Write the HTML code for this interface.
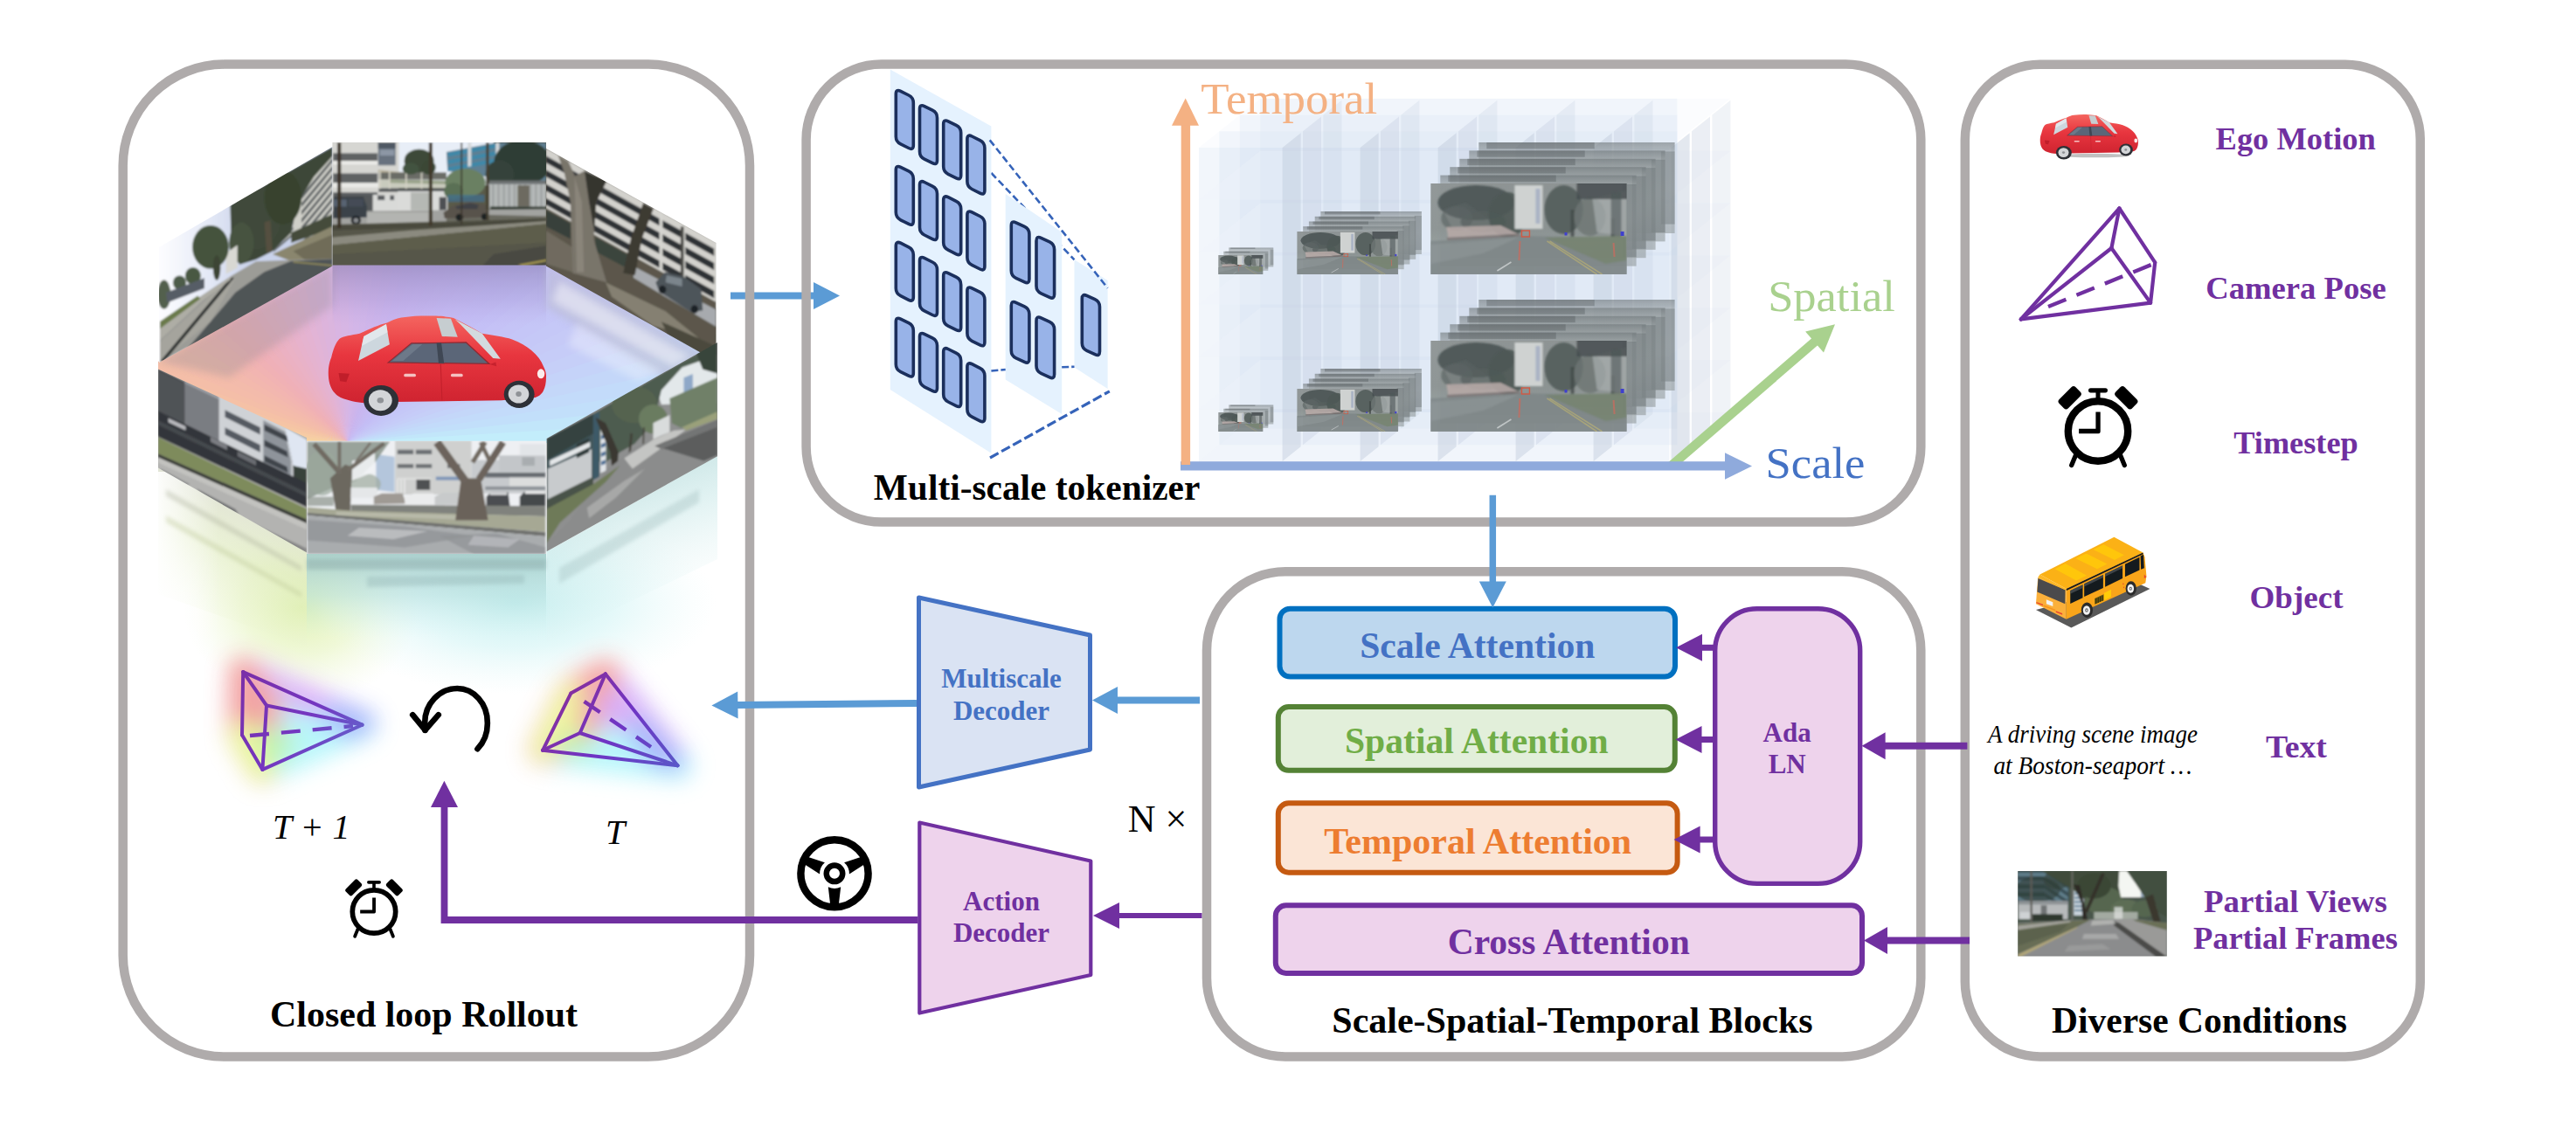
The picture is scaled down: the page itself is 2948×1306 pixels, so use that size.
<!DOCTYPE html>
<html><head><meta charset="utf-8"><title>Figure</title>
<style>html,body{margin:0;padding:0;background:#fff;}svg{display:block}text{font-family:"Liberation Serif","Times New Roman",serif;}</style>
</head><body>
<svg width="2948" height="1306" viewBox="0 0 2948 1306">
<defs><clipPath id="cTL"><polygon points="182.0,283.0 380.5,168.0 380.5,304.4 182.0,415.0"/></clipPath><clipPath id="cTC"><polygon points="380.5,163.0 625.0,163.0 625.0,303.5 380.5,303.5"/></clipPath><clipPath id="cTR"><polygon points="625.0,170.0 819.5,278.0 819.5,413.5 625.0,304.4"/></clipPath><clipPath id="cBL"><polygon points="181.0,422.4 351.0,501.0 351.0,632.5 181.0,535.5"/></clipPath><clipPath id="cBC"><polygon points="351.0,504.7 625.0,504.7 625.0,634.0 351.0,634.0"/></clipPath><clipPath id="cBR"><polygon points="625.6,502.0 821.0,392.0 821.0,522.2 625.6,631.2"/></clipPath><clipPath id="cFL"><polygon points="181.0,414.0 380.5,303.0 625.0,303.0 821.0,413.0 625.8,507.0 351.0,507.0 181.0,427.0"/></clipPath><clipPath id="cRefl"><rect x="181" y="395" width="640.5" height="420"/></clipPath>
<filter id="b2" x="-10%" y="-10%" width="120%" height="120%"><feGaussianBlur stdDeviation="2"/></filter>
<filter id="b4" x="-20%" y="-20%" width="140%" height="140%"><feGaussianBlur stdDeviation="4"/></filter>
<filter id="b1" x="-10%" y="-10%" width="120%" height="120%"><feGaussianBlur stdDeviation="1"/></filter>
<filter id="b12" x="-30%" y="-30%" width="160%" height="160%"><feGaussianBlur stdDeviation="12"/></filter>
<filter id="b14" x="-40%" y="-50%" width="180%" height="200%"><feGaussianBlur stdDeviation="13"/></filter>
<radialGradient id="gPink" cx="0.5" cy="0.5" r="0.5"><stop offset="0" stop-color="#e9b3c3" stop-opacity="1"/><stop offset="1" stop-color="#e9b3c3" stop-opacity="0"/></radialGradient>
<radialGradient id="gOrange" cx="0.5" cy="0.5" r="0.5"><stop offset="0" stop-color="#f8c79c" stop-opacity="1"/><stop offset="0.6" stop-color="#f6c2a6" stop-opacity="0.7"/><stop offset="1" stop-color="#f4b9b0" stop-opacity="0"/></radialGradient>
<radialGradient id="gCyan" cx="0.5" cy="0.5" r="0.5"><stop offset="0" stop-color="#c2f3fb" stop-opacity="1"/><stop offset="0.6" stop-color="#c6ebfb" stop-opacity="0.8"/><stop offset="1" stop-color="#cfe0fb" stop-opacity="0"/></radialGradient>
<radialGradient id="gPurple" cx="0.5" cy="0.5" r="0.5"><stop offset="0" stop-color="#bba3e2" stop-opacity="1"/><stop offset="0.6" stop-color="#c3ace8" stop-opacity="0.7"/><stop offset="1" stop-color="#cdb9f0" stop-opacity="0"/></radialGradient>
<radialGradient id="gYG" cx="0.5" cy="0.5" r="0.5"><stop offset="0" stop-color="#dcf0a6" stop-opacity="0.9"/><stop offset="0.5" stop-color="#e4f3ba" stop-opacity="0.55"/><stop offset="1" stop-color="#eef8d6" stop-opacity="0"/></radialGradient>
<radialGradient id="gCy2" cx="0.5" cy="0.5" r="0.5"><stop offset="0" stop-color="#b2eaea" stop-opacity="0.75"/><stop offset="0.5" stop-color="#c4f1f2" stop-opacity="0.45"/><stop offset="1" stop-color="#dff8f8" stop-opacity="0"/></radialGradient>
<linearGradient id="leftW" x1="0" y1="0" x2="1" y2="0"><stop offset="0" stop-color="#fff" stop-opacity="0.9"/><stop offset="1" stop-color="#fff" stop-opacity="0"/></linearGradient>
<linearGradient id="flTC" x1="0" y1="0" x2="0" y2="1"><stop offset="0" stop-color="#7f75a8" stop-opacity="0.5"/><stop offset="0.6" stop-color="#9a8cc8" stop-opacity="0.25"/><stop offset="1" stop-color="#b0a0e0" stop-opacity="0"/></linearGradient>
<linearGradient id="fadeW" x1="0" y1="0" x2="0" y2="1"><stop offset="0" stop-color="#fff" stop-opacity="0"/><stop offset="1" stop-color="#fff" stop-opacity="1"/></linearGradient>
<linearGradient id="reflBC" x1="0" y1="0" x2="0" y2="1"><stop offset="0" stop-color="#9fc9c6" stop-opacity="0.85"/><stop offset="0.5" stop-color="#b5dedd" stop-opacity="0.55"/><stop offset="1" stop-color="#d8f3f3" stop-opacity="0"/></linearGradient>
<linearGradient id="reflBR" x1="0" y1="0" x2="0.35" y2="1"><stop offset="0" stop-color="#a5cfcf" stop-opacity="0.9"/><stop offset="0.5" stop-color="#c4e6e6" stop-opacity="0.5"/><stop offset="1" stop-color="#e6f7f7" stop-opacity="0"/></linearGradient>
<linearGradient id="reflBL" x1="0.7" y1="0.2" x2="0.45" y2="1"><stop offset="0" stop-color="#dddfd2" stop-opacity="0.9"/><stop offset="0.4" stop-color="#deeabc" stop-opacity="0.6"/><stop offset="1" stop-color="#f0f8dc" stop-opacity="0"/></linearGradient>
<linearGradient id="skyTLz" gradientUnits="userSpaceOnUse" x1="50" y1="0" x2="500" y2="0"><stop offset="0" stop-color="#fdfdff"/><stop offset="0.45" stop-color="#e9edf8"/><stop offset="1" stop-color="#c9d2ea"/></linearGradient>
<linearGradient id="skyTL" x1="0" y1="0" x2="1" y2="0"><stop offset="0" stop-color="#f2f5fc"/><stop offset="0.25" stop-color="#d5def2"/><stop offset="1" stop-color="#c8cfe0"/></linearGradient>
<linearGradient id="blFade" x1="0" y1="0" x2="0" y2="1"><stop offset="0" stop-color="#fff" stop-opacity="0"/><stop offset="0.55" stop-color="#fff" stop-opacity="0.1"/><stop offset="1" stop-color="#fff" stop-opacity="0.95"/></linearGradient>
<linearGradient id="carBody" x1="0" y1="0" x2="0" y2="1"><stop offset="0" stop-color="#f4655f"/><stop offset="0.45" stop-color="#e8363f"/><stop offset="1" stop-color="#cf2330"/></linearGradient>

<linearGradient id="thumb" x1="0" y1="0" x2="0" y2="1">
<stop offset="0" stop-color="#8e9494"/><stop offset="0.5" stop-color="#8b9291"/><stop offset="0.62" stop-color="#909897"/><stop offset="1" stop-color="#858c8e"/></linearGradient>
<linearGradient id="thumbback" x1="0" y1="0" x2="0" y2="1">
<stop offset="0" stop-color="#6f777a"/><stop offset="0.12" stop-color="#9da4a6"/><stop offset="0.5" stop-color="#a3aaab"/><stop offset="1" stop-color="#949c9e"/></linearGradient>
<clipPath id="cThumb"><rect x="0" y="0" width="224" height="104"/></clipPath>
<g id="thumbimg">
<rect x="0" y="0" width="224" height="104" fill="url(#thumb)"/>
<g clip-path="url(#cThumb)"><g filter="url(#b1)">
<!-- sky patches -->
<polygon points="14,30 40,22 70,44 60,56 24,50" fill="#c9cccc" opacity="0.85"/>
<!-- left trees -->
<ellipse cx="52" cy="22" rx="44" ry="20" fill="#465050" opacity="0.9"/>
<ellipse cx="60" cy="44" rx="26" ry="12" fill="#525c5a" opacity="0.8"/>
<ellipse cx="88" cy="36" rx="22" ry="26" fill="#4a5452" opacity="0.9"/>
<ellipse cx="30" cy="40" rx="18" ry="14" fill="#5a6361" opacity="0.7"/>
<!-- centre building -->
<rect x="96" y="2" width="32" height="50" fill="#d2d5d4"/>
<rect x="120" y="6" width="5" height="40" fill="#aab4c6"/>
<!-- right trees -->
<ellipse cx="152" cy="30" rx="22" ry="28" fill="#505a58" opacity="0.9"/>
<rect x="160" y="30" width="4" height="34" fill="#3f4644" opacity="0.8"/><rect x="206" y="40" width="4" height="40" fill="#3f4644" opacity="0.7"/>
<ellipse cx="182" cy="38" rx="18" ry="22" fill="#6a7371" opacity="0.8"/>
<polygon points="185,18 224,8 224,60 190,56" fill="#a9afaf" opacity="0.7"/>
<!-- dark box top right -->
<rect x="167" y="-10" width="66" height="28" fill="#3f4648" opacity="0.8"/>
<rect x="206" y="10" width="12" height="70" fill="#4a5153" opacity="0.6"/>
<!-- left lower buildings pinkish -->
<polygon points="18,50 80,48 100,58 20,62" fill="#b7a9a6" opacity="0.9"/>
<polygon points="18,62 100,58 108,62 22,72" fill="#7a6f6f" opacity="0.8"/>
<!-- road -->
<polygon points="0,66 110,60 224,62 224,104 0,104" fill="#7f8788"/>
<polygon points="130,62 224,60 224,88 200,92" fill="#75836f" opacity="0.9"/>
<polygon points="0,70 100,62 60,80 0,92" fill="#8b9294" opacity="0.8"/>
</g>
<!-- lane lines -->
<line x1="133" y1="66" x2="190" y2="104" stroke="#b0a974" stroke-width="1.6" opacity="0.8"/>
<line x1="136" y1="66" x2="196" y2="104" stroke="#b0a974" stroke-width="1.6" opacity="0.8"/>
<line x1="92" y1="90" x2="76" y2="100" stroke="#d0d4d4" stroke-width="1.6" opacity="0.8"/>
<!-- red markers -->
<rect x="104" y="54" width="9" height="7" fill="none" stroke="#d5553e" stroke-width="1.4"/>
<line x1="102" y1="66" x2="101" y2="88" stroke="#c86a5c" stroke-width="2" opacity="0.8"/>
<line x1="209" y1="68" x2="210" y2="84" stroke="#c86a5c" stroke-width="2" opacity="0.8"/>
<rect x="153" y="56" width="3" height="3.5" fill="#3b3bd0"/><rect x="217" y="55" width="4" height="5" fill="#3b3bd0"/>
</g>
</g>

<radialGradient id="glR" cx="0.5" cy="0.5" r="0.5"><stop offset="0" stop-color="#f29a9a" stop-opacity="0.95"/><stop offset="0.5" stop-color="#f5b0a8" stop-opacity="0.6"/><stop offset="1" stop-color="#f8c8c0" stop-opacity="0"/></radialGradient>
<radialGradient id="glY" cx="0.5" cy="0.5" r="0.5"><stop offset="0" stop-color="#e8f59a" stop-opacity="0.95"/><stop offset="0.5" stop-color="#eef8b0" stop-opacity="0.55"/><stop offset="1" stop-color="#f4fbd0" stop-opacity="0"/></radialGradient>
<radialGradient id="glC" cx="0.5" cy="0.5" r="0.5"><stop offset="0" stop-color="#b0f5fb" stop-opacity="0.95"/><stop offset="0.5" stop-color="#c2f7fc" stop-opacity="0.6"/><stop offset="1" stop-color="#dafbfd" stop-opacity="0"/></radialGradient>
<radialGradient id="glB" cx="0.5" cy="0.5" r="0.5"><stop offset="0" stop-color="#9fb6fb" stop-opacity="0.95"/><stop offset="0.5" stop-color="#b4c4fc" stop-opacity="0.55"/><stop offset="1" stop-color="#d0d8fd" stop-opacity="0"/></radialGradient>
<radialGradient id="glP" cx="0.5" cy="0.5" r="0.5"><stop offset="0" stop-color="#d9b0f8" stop-opacity="0.95"/><stop offset="0.5" stop-color="#e0c0fa" stop-opacity="0.55"/><stop offset="1" stop-color="#ecd8fc" stop-opacity="0"/></radialGradient>
<radialGradient id="glG" cx="0.5" cy="0.5" r="0.5"><stop offset="0" stop-color="#b8f5b0" stop-opacity="0.9"/><stop offset="0.5" stop-color="#c8f8c0" stop-opacity="0.5"/><stop offset="1" stop-color="#e0fbd8" stop-opacity="0"/></radialGradient>
<linearGradient id="frA" gradientUnits="userSpaceOnUse" x1="278" y1="770" x2="414" y2="880"><stop offset="0" stop-color="#7a2fa8"/><stop offset="0.5" stop-color="#7436c0"/><stop offset="1" stop-color="#5f6fd0"/></linearGradient>
<linearGradient id="frB" gradientUnits="userSpaceOnUse" x1="650" y1="770" x2="775" y2="880"><stop offset="0" stop-color="#8a2f98"/><stop offset="0.5" stop-color="#6f34c4"/><stop offset="1" stop-color="#5a58c8"/></linearGradient>
<clipPath id="cPhoto"><rect x="2309.2" y="996.9" width="170.6" height="97.7"/></clipPath>
<linearGradient id="busTop" x1="0" y1="0" x2="1" y2="1"><stop offset="0" stop-color="#ffc20e"/><stop offset="1" stop-color="#f9a51a"/></linearGradient>
</defs>
<rect width="2948" height="1306" fill="#fff"/>
<g><g clip-path="url(#cRefl)"><ellipse cx="345" cy="695" rx="135" ry="110" fill="url(#gYG)"/><ellipse cx="590" cy="690" rx="230" ry="105" fill="url(#gCy2)"/><polygon points="351,634 625,634 625,730 351,730" fill="url(#reflBC)"/><polygon points="625.8,631.6 821,521.6 821,640 625.8,735" fill="url(#reflBR)"/><polygon points="181,535 351,632 351,740 181,680" fill="url(#reflBL)"/><rect x="181" y="540" width="70" height="220" fill="url(#leftW)"/><g opacity="0.35" filter="url(#b2)"><polygon points="351,640 625,640 625,652 351,652" fill="#7f9c9c"/><polygon points="420,660 600,658 600,668 420,672" fill="#8fb0b0"/><polygon points="640,650 800,560 800,575 640,668" fill="#9fbcbc"/><polygon points="190,560 345,648 345,654 190,568" fill="#a9ad98"/><polygon points="190,590 345,678 345,684 190,598" fill="#b9c493"/></g></g><g clip-path="url(#cFL)"><polygon points="181.0,414.0 380.5,303.0 625.0,303.0 821.0,413.0 625.8,507.0 351.0,507.0 181.0,427.0" fill="#d4caf3"/><polygon points="398,506 394.4,-14.0 428.8,-13.1" fill="#d5b6e7"/><polygon points="398,506 421.6,-13.5 456.0,-10.8" fill="#d3b6e8"/><polygon points="398,506 448.7,-11.5 482.9,-7.0" fill="#d1b6e9"/><polygon points="398,506 475.8,-8.2 509.7,-1.9" fill="#cfb5ea"/><polygon points="398,506 502.6,-3.4 536.1,4.7" fill="#cdb5eb"/><polygon points="398,506 529.1,2.8 562.1,12.6" fill="#cbb5ed"/><polygon points="398,506 555.2,10.3 587.7,21.9" fill="#c9b5ee"/><polygon points="398,506 581.0,19.2 612.8,32.4" fill="#c8b6ef"/><polygon points="398,506 606.2,29.5 637.3,44.3" fill="#c8b7f0"/><polygon points="398,506 630.8,41.0 661.1,57.5" fill="#c7b8f0"/><polygon points="398,506 654.8,53.9 684.2,71.9" fill="#c7b9f1"/><polygon points="398,506 678.2,67.9 706.6,87.5" fill="#c6baf2"/><polygon points="398,506 700.7,83.2 728.1,104.2" fill="#c6bbf3"/><polygon points="398,506 722.4,99.6 748.6,122.0" fill="#c5bcf4"/><polygon points="398,506 743.2,117.1 768.3,140.9" fill="#c4bdf5"/><polygon points="398,506 763.1,135.7 786.9,160.8" fill="#c4bef5"/><polygon points="398,506 782.0,155.4 804.4,181.6" fill="#c4c0f6"/><polygon points="398,506 799.8,175.9 820.8,203.3" fill="#c5c2f6"/><polygon points="398,506 816.5,197.4 836.1,225.8" fill="#c5c4f6"/><polygon points="398,506 832.1,219.8 850.1,249.2" fill="#c5c6f7"/><polygon points="398,506 846.5,242.9 863.0,273.2" fill="#c5c8f7"/><polygon points="398,506 859.7,266.7 874.5,297.8" fill="#c6caf7"/><polygon points="398,506 871.6,291.2 884.8,323.0" fill="#c6ccf8"/><polygon points="398,506 882.1,316.3 893.7,348.8" fill="#c6cff8"/><polygon points="398,506 891.4,341.9 901.2,374.9" fill="#c5d3f9"/><polygon points="398,506 899.3,367.9 907.4,401.4" fill="#c4d7f9"/><polygon points="398,506 905.9,394.3 912.2,428.2" fill="#c3dbfa"/><polygon points="398,506 911.0,421.1 915.5,455.3" fill="#c2dffa"/><polygon points="398,506 914.8,448.0 917.5,482.4" fill="#c2e6fa"/><polygon points="398,506 917.1,475.2 918.0,509.6" fill="#c3edfb"/><polygon points="398,506 918.0,502.4 917.1,536.8" fill="#c4f1fb"/><polygon points="398,506 917.5,529.6 914.8,564.0" fill="#c5f2fa"/><polygon points="398,506 915.5,556.7 911.0,590.9" fill="#c7f4f9"/><polygon points="398,506 912.2,583.8 905.9,617.7" fill="#c8f5f8"/><polygon points="398,506 907.4,610.6 899.3,644.1" fill="#c8f5f6"/><polygon points="398,506 901.2,637.1 891.4,670.1" fill="#c9f5f5"/><polygon points="398,506 893.7,663.2 882.1,695.7" fill="#c9f5f3"/><polygon points="398,506 -95.4,670.1 -105.2,637.1" fill="#e8f5a9"/><polygon points="398,506 -103.3,644.1 -111.4,610.6" fill="#eaf3a8"/><polygon points="398,506 -109.9,617.7 -116.2,583.8" fill="#eeeea8"/><polygon points="398,506 -115.0,590.9 -119.5,556.7" fill="#f3eaa8"/><polygon points="398,506 -118.8,564.0 -121.5,529.6" fill="#f5e4a7"/><polygon points="398,506 -121.1,536.8 -122.0,502.4" fill="#f6dea5"/><polygon points="398,506 -122.0,509.6 -121.1,475.2" fill="#f6d6a3"/><polygon points="398,506 -121.5,482.4 -118.8,448.0" fill="#f6d1a2"/><polygon points="398,506 -119.5,455.3 -115.0,421.1" fill="#f6cea3"/><polygon points="398,506 -116.2,428.2 -109.9,394.3" fill="#f6cba4"/><polygon points="398,506 -111.4,401.4 -103.3,367.9" fill="#f5c7a4"/><polygon points="398,506 -105.2,374.9 -95.4,341.9" fill="#f5c4a5"/><polygon points="398,506 -97.7,348.8 -86.1,316.3" fill="#f5c1a6"/><polygon points="398,506 -88.8,323.0 -75.6,291.2" fill="#f4bea8"/><polygon points="398,506 -78.5,297.8 -63.7,266.7" fill="#f4bcaa"/><polygon points="398,506 -67.0,273.2 -50.5,242.9" fill="#f3bbab"/><polygon points="398,506 -54.1,249.2 -36.1,219.8" fill="#f3b9ad"/><polygon points="398,506 -40.1,225.8 -20.5,197.4" fill="#f2b7af"/><polygon points="398,506 -24.8,203.3 -3.8,175.9" fill="#f2b5b1"/><polygon points="398,506 -8.4,181.6 14.0,155.4" fill="#f1b3b3"/><polygon points="398,506 9.1,160.8 32.9,135.7" fill="#f0b1b5"/><polygon points="398,506 27.7,140.9 52.8,117.1" fill="#efb0b8"/><polygon points="398,506 47.4,122.0 73.6,99.6" fill="#eeb1bb"/><polygon points="398,506 67.9,104.2 95.3,83.2" fill="#ecb1be"/><polygon points="398,506 89.4,87.5 117.8,67.9" fill="#ebb1c2"/><polygon points="398,506 111.8,71.9 141.2,53.9" fill="#eab2c5"/><polygon points="398,506 134.9,57.5 165.2,41.0" fill="#e8b2c8"/><polygon points="398,506 158.7,44.3 189.8,29.5" fill="#e7b2cc"/><polygon points="398,506 183.2,32.4 215.0,19.2" fill="#e5b3cf"/><polygon points="398,506 208.3,21.9 240.8,10.3" fill="#e4b3d2"/><polygon points="398,506 233.9,12.6 266.9,2.8" fill="#e2b4d6"/><polygon points="398,506 259.9,4.7 293.4,-3.4" fill="#dfb4d8"/><polygon points="398,506 286.3,-1.9 320.2,-8.2" fill="#ddb4dc"/><polygon points="398,506 313.1,-7.0 347.3,-11.5" fill="#dbb5de"/><polygon points="398,506 340.0,-10.8 374.4,-13.5" fill="#d9b5e2"/><polygon points="398,506 367.2,-13.1 401.6,-14.0" fill="#d7b6e4"/><rect x="380.5" y="303" width="244.5" height="70" fill="url(#flTC)"/><polygon points="181,414 380.5,303 380.5,350 262,432" fill="#8d8a92" opacity="0.30" filter="url(#b4)"/><polygon points="625,303 821,413 770,438 625,352" fill="#b9bbd0" opacity="0.55" filter="url(#b4)"/><polygon points="640,322 790,408 770,420 632,345" fill="#ffffff" opacity="0.45" filter="url(#b4)"/><polygon points="660,370 760,425 730,436 650,395" fill="#ffffff" opacity="0.30" filter="url(#b4)"/></g><g clip-path="url(#cTL)"><g filter="url(#b1)"><g transform="translate(170,155) scale(0.23657)"><rect x="0" y="0" width="930" height="1141" fill="url(#skyTLz)"/><polygon points="700,300 735,270 890,80 890,420 700,480" fill="#cfcfc8"/><polygon points="740,290 890,110 890,128 740,310" fill="#5f6365"/><polygon points="740,328 890,148 890,166 740,348" fill="#5f6365"/><polygon points="740,366 890,186 890,204 740,386" fill="#5f6365"/><polygon points="740,404 890,224 890,242 740,424" fill="#5f6365"/><polygon points="740,442 890,262 890,280 740,462" fill="#5f6365"/><polygon points="740,480 890,300 890,318 740,500" fill="#5f6365"/><polygon points="740,518 890,338 890,356 740,538" fill="#5f6365"/><polygon points="740,556 890,376 890,394 740,576" fill="#5f6365"/><polygon points="600,420 700,330 700,480 600,540" fill="#c4c5c0"/><polygon points="605,440 700,360 700,372 605,452" fill="#6a6e70"/><polygon points="605,468 700,388 700,400 605,480" fill="#6a6e70"/><polygon points="605,496 700,416 700,428 605,508" fill="#6a6e70"/><polygon points="605,524 700,444 700,456 605,536" fill="#6a6e70"/><polygon points="605,552 700,472 700,484 605,564" fill="#6a6e70"/><polygon points="395,335 560,240 720,150 890,55 890,100 800,200 745,290 700,420 690,470 600,560 520,600 440,625 400,520" fill="#3c4738"/><ellipse cx="520" cy="400" rx="120" ry="150" fill="#3f4a3a"/><ellipse cx="650" cy="300" rx="90" ry="130" fill="#38432f"/><ellipse cx="450" cy="520" rx="60" ry="100" fill="#46523f"/><polygon points="560,420 590,410 600,560 570,570" fill="#54503f"/><polygon points="375,570 430,530 430,640 375,670" fill="#d8d8d3"/><ellipse cx="300" cy="540" rx="88" ry="105" fill="#44533c"/><ellipse cx="330" cy="640" rx="18" ry="60" fill="#3e4434"/><ellipse cx="215" cy="680" rx="38" ry="42" fill="#4a5943"/><ellipse cx="150" cy="712" rx="32" ry="34" fill="#4d5c48"/><ellipse cx="75" cy="770" rx="32" ry="70" fill="#52604e"/><polygon points="85,760 270,690 270,740 90,810" fill="#565d66"/><polygon points="690,470 890,380 890,450 690,520" fill="#454c3a"/><polygon points="600,575 890,440 890,600 680,605" fill="#8a866e"/><polygon points="700,560 890,480 890,600 760,605" fill="#6f6c58"/><polygon points="55,910 250,780 400,680 520,610 680,603 890,597 890,640 55,1100" fill="#9c9c97"/><polygon points="250,960 420,760 560,660 690,608 890,598 890,640 180,1040" fill="#4f5456"/><polygon points="55,1000 395,690 420,690 300,900 55,1095" fill="#a5a49d"/><polygon points="395,690 415,688 75,1095 55,1095" fill="#2f3331"/><polygon points="55,920 250,782 400,682 395,700 260,800 55,990" fill="#aeada5"/><polygon points="55,900 238,776 250,790 55,935" fill="#6b7a4c"/><line x1="700" y1="612" x2="890" y2="630" stroke="#b5a85c" stroke-width="6" opacity="0.7"/></g></g></g><g clip-path="url(#cTC)"><g filter="url(#b1)"><g transform="translate(375,155) scale(0.13587)"><rect x="0" y="0" width="1914" height="1141" fill="#5a5a4a"/><rect x="560" y="40" width="840" height="380" fill="#e8eef7"/><rect x="30" y="40" width="570" height="610" fill="#d6d6d2"/><rect x="45" y="150" width="375" height="65" fill="#5f6264"/><rect x="45" y="320" width="375" height="80" fill="#5f6264"/><rect x="45" y="480" width="375" height="40" fill="#5f6264"/><rect x="45" y="215" width="375" height="30" fill="#ebebe8"/><rect x="45" y="400" width="385" height="40" fill="#e9e9e6"/><rect x="425" y="60" width="147" height="192" fill="#68727f"/><rect x="425" y="60" width="147" height="50" fill="#4f5964"/><rect x="440" y="120" width="120" height="50" fill="#8d97a5"/><rect x="45" y="500" width="375" height="140" fill="#55585a"/><rect x="380" y="500" width="220" height="140" fill="#d9dad8"/><rect x="420" y="505" width="60" height="40" fill="#5a5d60"/><rect x="525" y="505" width="35" height="40" fill="#5a5d60"/><polygon points="425,288 1000,350 1000,372 425,312" fill="#b7b09a"/><rect x="430" y="312" width="570" height="60" fill="#6b6c66"/><polygon points="430,372 1000,382 1000,445 430,440" fill="#c9cbbd"/><polygon points="520,372 1000,380 1000,410 520,400" fill="#9aa38a"/><rect x="430" y="445" width="570" height="30" fill="#55585a"/><rect x="590" y="470" width="420" height="170" fill="#dadbd9"/><rect x="700" y="480" width="160" height="150" fill="#b5b8b4"/><rect x="940" y="520" width="60" height="110" fill="#4e5052"/><rect x="435" y="300" width="12" height="150" fill="#d5d3c6"/><rect x="515" y="300" width="12" height="150" fill="#d5d3c6"/><rect x="655" y="300" width="12" height="150" fill="#d5d3c6"/><rect x="785" y="300" width="12" height="150" fill="#d5d3c6"/><ellipse cx="770" cy="215" rx="125" ry="100" fill="#3c4a38"/><ellipse cx="700" cy="280" rx="70" ry="50" fill="#435240"/><ellipse cx="850" cy="270" rx="60" ry="60" fill="#3a4736"/><polygon points="1000,140 1420,60 1840,60 1840,420 1010,300" fill="#5f7f92"/><polygon points="1010,145 1420,70 1420,105 1015,180" fill="#3f88a8"/><polygon points="1010,207 1420,132 1420,167 1015,242" fill="#3f88a8"/><polygon points="1010,269 1420,194 1420,229 1015,304" fill="#3f88a8"/><polygon points="1180,60 1210,60 1210,260 1180,265" fill="#d5d8da"/><polygon points="1415,60 1445,60 1445,240 1415,245" fill="#d5d8da"/><ellipse cx="1640" cy="230" rx="240" ry="190" fill="#2f3d36"/><ellipse cx="1450" cy="330" rx="120" ry="120" fill="#34423a"/><ellipse cx="1160" cy="400" rx="170" ry="120" fill="#6a8062"/><ellipse cx="1060" cy="470" rx="80" ry="70" fill="#5a6f55"/><rect x="1360" y="400" width="480" height="220" fill="#b4b8b7"/><rect x="1360" y="380" width="480" height="30" fill="#6d7172"/><rect x="1390" y="410" width="8" height="200" fill="#8a8e8e"/><rect x="1435" y="410" width="8" height="200" fill="#8a8e8e"/><rect x="1480" y="410" width="8" height="200" fill="#8a8e8e"/><rect x="1525" y="410" width="8" height="200" fill="#8a8e8e"/><rect x="1570" y="410" width="8" height="200" fill="#8a8e8e"/><rect x="1615" y="410" width="8" height="200" fill="#8a8e8e"/><rect x="1660" y="410" width="8" height="200" fill="#8a8e8e"/><rect x="1705" y="410" width="8" height="200" fill="#8a8e8e"/><rect x="1750" y="410" width="8" height="200" fill="#8a8e8e"/><rect x="1795" y="410" width="8" height="200" fill="#8a8e8e"/><rect x="1600" y="420" width="100" height="180" fill="#6d6a60"/><rect x="1370" y="600" width="470" height="90" fill="#2e382f"/><rect x="1010" y="500" width="310" height="60" fill="#3d6f92" opacity="0.7"/><polygon points="30,640 1840,620 1840,700 30,760" fill="#a2a3a0"/><polygon points="330,650 850,650 850,740 330,750" fill="#b3b4b1"/><polygon points="1000,660 1840,680 1840,720 1000,730" fill="#6a6a60"/><polygon points="45,520 300,515 330,600 330,690 45,700" fill="#3b424a"/><rect x="50" y="540" width="110" height="60" fill="#596472"/><rect x="175" y="535" width="125" height="65" fill="#444c56"/><ellipse cx="238" cy="715" rx="42" ry="40" fill="#1f2226"/><ellipse cx="238" cy="715" rx="20" ry="19" fill="#8a8d90"/><polygon points="975,650 1060,590 1200,560 1330,585 1345,690 985,700" fill="#59534c"/><polygon points="1075,598 1200,570 1270,585 1260,620 1090,620" fill="#3f4246"/><ellipse cx="1110" cy="690" rx="32" ry="30" fill="#1f2023"/><ellipse cx="1320" cy="685" rx="26" ry="28" fill="#1f2023"/><polygon points="30,750 1840,700 1840,1100 30,1100" fill="#57574a"/><polygon points="30,760 900,740 1840,700 1840,730 1100,770 30,800" fill="#48483c"/><polygon points="30,860 700,800 1300,760 1840,722 1840,745 1300,800 700,860 30,925" fill="#8b8a7f"/><polygon points="30,925 700,860 1300,800 1840,745 1840,900 30,1000" fill="#5d5d4c"/><polygon points="1400,1000 1840,930 1840,1100 1300,1100" fill="#4a4a42"/><polygon points="1600,1090 1840,1045 1840,1060 1640,1100" fill="#a89a52"/><rect x="82" y="60" width="30" height="720" fill="#3a3328"/><rect x="853" y="60" width="29" height="700" fill="#40392c"/><rect x="1122" y="60" width="12" height="690" fill="#3a352c"/><rect x="1335" y="60" width="22" height="655" fill="#453f30"/></g></g></g><g clip-path="url(#cTR)"><g filter="url(#b1)"><g transform="translate(615,160) scale(0.23657)"><rect x="0" y="0" width="930" height="1141" fill="#5a564a"/><polygon points="42,40 865,495 865,800 42,340" fill="#d3d2cd"/><polygon points="42,78 865,533 865,568 42,111" fill="#2f3235"/><polygon points="42,146 865,601 865,636 42,179" fill="#2f3235"/><polygon points="42,214 865,669 865,704 42,247" fill="#2f3235"/><polygon points="42,282 865,737 865,772 42,315" fill="#2f3235"/><polygon points="42,350 865,805 865,840 42,383" fill="#2f3235"/><polygon points="42,418 865,873 865,908 42,451" fill="#2f3235"/><polygon points="42,486 865,941 865,976 42,519" fill="#2f3235"/><polygon points="590,343 606,352 606,673 590,663" fill="#d6d5d0"/><polygon points="700,404 716,413 716,734 700,724" fill="#d6d5d0"/><polygon points="855,490 871,499 871,820 855,810" fill="#d6d5d0"/><polygon points="42,330 865,785 865,1100 42,640" fill="#5b574b"/><polygon points="42,340 160,405 160,480 42,420" fill="#37413a"/><polygon points="280,470 470,575 470,640 280,540" fill="#3b443c"/><polygon points="465,612 865,822 865,905 465,668" fill="#a7aaae"/><polygon points="330,690 620,830 780,960 560,900 360,760" fill="#8a8577" opacity="0.9"/><polygon points="42,440 170,520 170,640 42,600" fill="#6f6b5e"/><polygon points="600,880 865,1000 865,1075 640,960" fill="#4b483e"/><polygon points="100,75 150,105 182,175 228,150 335,200 285,300 272,480 335,690 170,645 160,300 130,160" fill="#79746a"/><polygon points="228,150 335,200 285,300 275,440 250,300" fill="#35352f"/><polygon points="180,180 215,300 225,640 190,640" fill="#8e897e" opacity="0.8"/><polygon points="512,305 562,332 505,480 472,655 415,645 452,480" fill="#3d3a32"/><rect x="693" y="420" width="15" height="375" fill="#4a4a45"/><polygon points="572,690 618,640 705,660 792,722 800,825 745,835 590,735" fill="#4d545a"/><polygon points="625,655 700,672 700,710 620,690" fill="#7b858c"/><ellipse cx="605" cy="725" rx="18" ry="20" fill="#1f2226"/><ellipse cx="760" cy="820" rx="18" ry="20" fill="#1f2226"/></g></g></g><g clip-path="url(#cBL)"><g filter="url(#b1)"><g transform="translate(170,410) scale(0.23657)"><rect x="0" y="0" width="930" height="1141" fill="#b4b4b1"/><polygon points="45,50 765,400 765,720 45,380" fill="#45474b"/><polygon points="45,60 175,120 175,330 45,270" fill="#505357"/><polygon points="175,85 340,165 340,420 175,340" fill="#7a7d82"/><polygon points="175,85 340,165 340,200 175,120" fill="#9c9fa4"/><polygon points="340,165 545,265 660,330 700,520 700,620 340,440" fill="#cfd2d6"/><polygon points="370,250 540,335 540,370 370,285" fill="#555a62"/><polygon points="370,335 540,420 540,455 370,370" fill="#555a62"/><polygon points="370,420 540,505 540,540 370,455" fill="#555a62"/><polygon points="555,300 660,355 690,500 690,600 555,540" fill="#8f949b"/><polygon points="560,320 670,375 675,405 560,350" fill="#3f444c"/><polygon points="560,395 670,450 675,480 560,425" fill="#3f444c"/><polygon points="560,470 670,525 675,555 560,500" fill="#3f444c"/><polygon points="660,335 765,395 765,560 700,520" fill="#dfe6f2"/><polygon points="700,520 765,535 765,705 715,690" fill="#38423a"/><polygon points="45,255 765,605 765,720 45,375" fill="#33363a"/><polygon points="45,300 765,650 765,672 45,322" fill="#4a4d52" opacity="0.8"/><polygon points="95,290 180,330 180,350 95,310" fill="#d8dadd" opacity="0.8"/><polygon points="300,380 380,420 380,445 300,405" fill="#8d9095" opacity="0.8"/><polygon points="430,450 520,495 520,520 430,475" fill="#777a80" opacity="0.8"/><polygon points="45,383 765,728 765,780 45,462" fill="#7e8b5c"/><polygon points="45,462 765,780 765,800 45,480" fill="#3b3d38"/><polygon points="45,480 765,800 765,945 45,535" fill="#b3b3b1"/><polygon points="45,480 765,800 765,830 45,505" fill="#c2c2bf"/><polygon points="230,630 420,730 440,760 300,700" fill="#5d5e5f" opacity="0.7"/><polygon points="420,760 765,920 765,945 500,820" fill="#6a6b6c" opacity="0.6"/><polygon points="60,535 200,610 180,620 50,560" fill="#77787a" opacity="0.6"/></g></g></g><g clip-path="url(#cBC)"><g filter="url(#b1)"><g transform="translate(345,495) scale(0.13146)"><rect x="0" y="0" width="2206" height="1141" fill="#eef0f3"/><polygon points="650,190 810,212 810,520 650,500" fill="#b4c6dc"/><rect x="815" y="70" width="665" height="470" fill="#cfd0cf"/><rect x="835" y="150" width="140" height="40" fill="#6d7174"/><rect x="995" y="150" width="140" height="40" fill="#6d7174"/><rect x="835" y="275" width="140" height="35" fill="#6d7174"/><rect x="995" y="275" width="140" height="35" fill="#6d7174"/><rect x="1270" y="275" width="110" height="35" fill="#6d7174"/><rect x="1000" y="400" width="120" height="100" fill="#505153"/><rect x="830" y="395" width="300" height="15" fill="#dfe0df"/><rect x="1170" y="385" width="210" height="30" fill="#7f96b8"/><rect x="830" y="410" width="14" height="120" fill="#e6e7e6"/><rect x="860" y="410" width="14" height="120" fill="#e6e7e6"/><rect x="890" y="410" width="14" height="120" fill="#e6e7e6"/><rect x="1480" y="240" width="645" height="290" fill="#c7cacd"/><rect x="1720" y="200" width="405" height="150" fill="#c3c6c9"/><rect x="1900" y="100" width="225" height="100" fill="#e2e5e8"/><rect x="1600" y="350" width="525" height="42" fill="#676c71"/><rect x="1810" y="392" width="315" height="78" fill="#dcdddd"/><rect x="1600" y="470" width="525" height="30" fill="#8d9297"/><rect x="1920" y="215" width="110" height="75" fill="#a9adb0"/><polygon points="50,80 770,80 640,260 470,420 300,470 50,580" fill="#8a958b" opacity="0.85"/><ellipse cx="180" cy="350" rx="150" ry="200" fill="#9aa69b" opacity="0.7"/><ellipse cx="560" cy="450" rx="130" ry="90" fill="#9eaa9c" opacity="0.7"/><polygon points="440,250 640,180 640,340 440,420" fill="#f1f3f5" opacity="0.9"/><polygon points="250,400 300,690 425,690 440,300 380,280" fill="#6c675f"/><line x1="340" y1="360" x2="110" y2="100" stroke="#6f6a62" stroke-width="42"/><line x1="400" y1="330" x2="720" y2="95" stroke="#6f6a62" stroke-width="34"/><line x1="330" y1="330" x2="330" y2="80" stroke="#757067" stroke-width="30"/><line x1="470" y1="260" x2="600" y2="90" stroke="#77726a" stroke-width="20"/><rect x="430" y="480" width="230" height="90" fill="#e5e7e9"/><rect x="50" y="560" width="230" height="80" fill="#8b938a" opacity="0.7"/><polygon points="630,560 700,530 880,530 910,620 630,625" fill="#9f9a94"/><polygon points="900,560 980,530 1150,530 1165,630 900,630" fill="#ebeced"/><polygon points="1160,560 1230,525 1380,525 1390,630 1160,630" fill="#c8cacb"/><polygon points="1610,560 1650,520 1800,520 1815,640 1610,640" fill="#4b4e51"/><rect x="1640" y="520" width="150" height="25" fill="#d9dadb"/><polygon points="1900,560 1950,505 2125,505 2125,640 1900,640" fill="#45484b"/><rect x="1945" y="505" width="180" height="30" fill="#e6e7e8"/><polygon points="430,630 2125,640 2125,730 430,690" fill="#80827d"/><polygon points="50,650 430,680 2125,730 2125,865 50,712" fill="#a6a894"/><polygon points="300,690 1400,720 1400,760 300,720" fill="#c0c1b2" opacity="0.7"/><polygon points="1390,400 1340,765 1625,765 1560,400" fill="#6a625a"/><line x1="1430" y1="430" x2="1180" y2="85" stroke="#6c645c" stroke-width="72"/><line x1="1545" y1="410" x2="1755" y2="85" stroke="#6c645c" stroke-width="60"/><line x1="1490" y1="260" x2="1600" y2="85" stroke="#716960" stroke-width="40"/><line x1="1640" y1="250" x2="1560" y2="85" stroke="#716960" stroke-width="36"/><polygon points="50,700 2125,868 2125,905 50,722" fill="#6f716e"/><polygon points="50,722 2125,905 2125,1060 50,1060" fill="#a9acae"/><polygon points="50,760 900,820 1500,900 900,1000 50,940" fill="#8e9194" opacity="0.7"/><polygon points="1200,900 1700,880 2125,1000 2125,1060 1500,1060" fill="#909396" opacity="0.7"/><polygon points="500,830 1100,860 800,930 400,900" fill="#c9cbcd" opacity="0.7"/><polygon points="1500,900 1900,930 1800,1000 1450,980" fill="#c5c7c9" opacity="0.6"/></g></g></g><g clip-path="url(#cBR)"><g filter="url(#b1)"><g transform="translate(615,385) scale(0.23657)"><rect x="0" y="0" width="930" height="1141" fill="#8e8f8f"/><polygon points="560,210 870,30 870,320 600,330" fill="#e3e8ea"/><polygon points="708,200 752,182 752,262 708,272" fill="#8fa8c8"/><polygon points="270,375 620,170 870,30 870,90 700,150 600,260 560,420 470,520 400,560 330,610 270,600" fill="#4e5b4f"/><ellipse cx="470" cy="330" rx="110" ry="90" fill="#55634f"/><ellipse cx="560" cy="400" rx="70" ry="70" fill="#6a7b60"/><polygon points="640,300 870,200 870,385 700,445 650,420" fill="#6f8067"/><polygon points="760,60 870,20 870,180 800,160" fill="#39443a"/><polygon points="560,420 640,380 640,470 560,500" fill="#d9dcdc"/><polygon points="45,495 270,375 270,700 45,830" fill="#40545a"/><polygon points="45,495 270,375 270,470 45,600" fill="#34433f"/><polygon points="50,640 262,545 262,690 50,800" fill="#c8cbcd"/><polygon points="190,520 250,492 250,560 190,590" fill="#2f3a3a"/><polygon points="60,600 255,510 255,535 60,628" fill="#e3e6e8"/><polygon points="45,790 270,680 270,720 45,840" fill="#4a5248"/><polygon points="270,380 300,365 300,680 270,695" fill="#3e5a68"/><polygon points="305,452 332,440 332,650 305,662" fill="#e0e4e8"/><polygon points="308,480 330,471 330,490 308,499" fill="#4d6f96"/><polygon points="308,522 330,513 330,532 308,541" fill="#4d6f96"/><polygon points="308,564 330,555 330,574 308,583" fill="#4d6f96"/><polygon points="308,606 330,597 330,616 308,625" fill="#4d6f96"/><polygon points="280,392 330,420 392,560 388,625 360,632 352,560" fill="#3a3932"/><line x1="440" y1="640" x2="455" y2="470" stroke="#3f3d35" stroke-width="10"/><line x1="510" y1="590" x2="515" y2="440" stroke="#45433a" stroke-width="7"/><polygon points="330,650 470,540 600,480 700,440 870,400 870,585 45,1045 45,1000 150,900" fill="#8b8c8c"/><polygon points="420,590 560,500 660,455 720,450 600,540 460,640" fill="#c4c5c3"/><polygon points="240,830 420,700 520,640 380,780 250,880" fill="#aeafae" opacity="0.8"/><polygon points="568,530 870,405 870,575 805,602" fill="#5c5d5d"/><polygon points="568,530 870,405 870,440 600,545" fill="#737474"/><polygon points="45,835 270,715 400,625 330,705 110,900 45,1000" fill="#6e7a58"/><polygon points="700,440 870,365 870,400 720,455" fill="#9aa07a"/></g></g></g><g transform="translate(0,0) scale(1.0)"><g transform="translate(343.09,325.79) scale(0.15575)"><path d="M210,640 C212,590 222,560 232,535 C245,480 262,430 290,400 C320,378 380,372 440,360 C520,320 580,296 640,280 C690,255 720,245 760,240 C840,228 920,228 1000,230 C1060,232 1100,238 1130,246 C1200,280 1270,320 1340,360 C1420,372 1500,385 1560,402 C1620,425 1665,450 1700,482 C1745,520 1775,560 1790,600 C1805,630 1812,655 1810,680 C1810,720 1803,755 1790,780 C1775,810 1750,825 1720,832 L1480,850 L700,862 L480,870 C420,868 350,850 300,830 C255,805 232,770 220,730 C212,700 209,670 210,640 Z" fill="url(#carBody)"/><path d="M430,560 L470,380 L635,290 L660,440 Z" fill="#cdd7de"/><path d="M470,380 L635,290 L645,350 L455,450 Z" fill="#e9eef2" opacity="0.7"/><path d="M650,572 L820,430 L1222,425 L1392,582 Z" fill="#5b6678" stroke="#8f2a33" stroke-width="8"/><path d="M1005,428 L1040,428 L1060,578 L1020,578 Z" fill="#3f4754"/><path d="M680,560 L830,438 L900,438 L760,560 Z" fill="#7a8594" opacity="0.6"/><path d="M1140,255 L1340,360 L1475,545 L1420,540 L1180,292 Z" fill="#d3dade"/><path d="M1005,245 L1110,250 L1160,385 L1045,380 Z" fill="#c6cdd0"/><path d="M1035,585 L1045,850" stroke="#c3202c" stroke-width="7" fill="none"/><rect x="765" y="655" width="88" height="22" rx="10" fill="#f5c1c1"/><rect x="1110" y="655" width="88" height="22" rx="10" fill="#f5c1c1"/><ellipse cx="1772" cy="655" rx="27" ry="35" fill="#fbeceb"/><path d="M285,650 L365,655 L342,715 L296,710 Z" fill="#c01e2a"/><path d="M1395,585 L1440,570 L1445,600 Z" fill="#c7222e"/><ellipse cx="597" cy="852" rx="128" ry="112" fill="#2e3137"/><ellipse cx="592" cy="850" rx="86" ry="77" fill="#d3d5d8"/><ellipse cx="592" cy="850" rx="24" ry="21" fill="#8f9296"/><ellipse cx="1612" cy="806" rx="112" ry="100" fill="#2e3137"/><ellipse cx="1608" cy="804" rx="76" ry="68" fill="#d3d5d8"/><ellipse cx="1608" cy="804" rx="21" ry="19" fill="#8f9296"/></g></g></g><line x1="836.0" y1="338.6" x2="932.0" y2="338.6" stroke="#5B9BD5" stroke-width="8"/><polygon points="961.0,338.6 931.0,354.1 931.0,323.1" fill="#5B9BD5"/><rect x="140.7" y="73.6" width="717.3" height="1135.9" rx="116" ry="116" fill="none" stroke="#AFABAB" stroke-width="10.5"/><rect x="922.6" y="73.6" width="1275.7000000000003" height="524.0" rx="86" ry="86" fill="none" stroke="#AFABAB" stroke-width="10.5"/><rect x="1381" y="654.3" width="817.3000000000002" height="555.1000000000001" rx="90" ry="90" fill="none" stroke="#AFABAB" stroke-width="10.5"/><rect x="2248.8" y="73.8" width="521.0" height="1135.7" rx="86" ry="86" fill="none" stroke="#AFABAB" stroke-width="10.5"/><g><line x1="1134.4" y1="198" x2="1229.5" y2="297.3" stroke="#3563B9" stroke-width="2.6" stroke-dasharray="8 4"/><polygon points="1018.8,79.4 1134.4,144.6 1134.4,518.7 1018.8,446" fill="#E5F2FE"/><path d="M1025.3,107.7 Q1025.3,101.7 1030.7,104.4 L1039.9,109.0 Q1045.3,111.7 1045.3,117.7 L1045.3,166.2 Q1045.3,172.2 1039.9,169.5 L1030.7,164.9 Q1025.3,162.2 1025.3,156.2 Z" fill="#98B3E8" stroke="#1B2F5C" stroke-width="3.6"/><path d="M1052.5,124.9 Q1052.5,118.9 1057.9,121.6 L1067.1,126.2 Q1072.5,128.9 1072.5,134.9 L1072.5,183.4 Q1072.5,189.4 1067.1,186.7 L1057.9,182.1 Q1052.5,179.4 1052.5,173.4 Z" fill="#98B3E8" stroke="#1B2F5C" stroke-width="3.6"/><path d="M1079.7,142.1 Q1079.7,136.1 1085.1,138.8 L1094.3,143.4 Q1099.7,146.1 1099.7,152.1 L1099.7,200.6 Q1099.7,206.6 1094.3,203.9 L1085.1,199.3 Q1079.7,196.6 1079.7,190.6 Z" fill="#98B3E8" stroke="#1B2F5C" stroke-width="3.6"/><path d="M1106.9,159.3 Q1106.9,153.3 1112.3,156.0 L1121.5,160.6 Q1126.9,163.3 1126.9,169.3 L1126.9,217.8 Q1126.9,223.8 1121.5,221.1 L1112.3,216.5 Q1106.9,213.8 1106.9,207.8 Z" fill="#98B3E8" stroke="#1B2F5C" stroke-width="3.6"/><path d="M1025.3,194.6 Q1025.3,188.6 1030.7,191.3 L1039.9,195.9 Q1045.3,198.6 1045.3,204.6 L1045.3,253.1 Q1045.3,259.1 1039.9,256.4 L1030.7,251.8 Q1025.3,249.1 1025.3,243.1 Z" fill="#98B3E8" stroke="#1B2F5C" stroke-width="3.6"/><path d="M1052.5,211.8 Q1052.5,205.8 1057.9,208.5 L1067.1,213.1 Q1072.5,215.8 1072.5,221.8 L1072.5,270.3 Q1072.5,276.3 1067.1,273.6 L1057.9,269.0 Q1052.5,266.3 1052.5,260.3 Z" fill="#98B3E8" stroke="#1B2F5C" stroke-width="3.6"/><path d="M1079.7,229.0 Q1079.7,223.0 1085.1,225.7 L1094.3,230.3 Q1099.7,233.0 1099.7,239.0 L1099.7,287.5 Q1099.7,293.5 1094.3,290.8 L1085.1,286.2 Q1079.7,283.5 1079.7,277.5 Z" fill="#98B3E8" stroke="#1B2F5C" stroke-width="3.6"/><path d="M1106.9,246.2 Q1106.9,240.2 1112.3,242.9 L1121.5,247.5 Q1126.9,250.2 1126.9,256.2 L1126.9,304.7 Q1126.9,310.7 1121.5,308.0 L1112.3,303.4 Q1106.9,300.7 1106.9,294.7 Z" fill="#98B3E8" stroke="#1B2F5C" stroke-width="3.6"/><path d="M1025.3,281.5 Q1025.3,275.5 1030.7,278.2 L1039.9,282.8 Q1045.3,285.5 1045.3,291.5 L1045.3,340.0 Q1045.3,346.0 1039.9,343.3 L1030.7,338.7 Q1025.3,336.0 1025.3,330.0 Z" fill="#98B3E8" stroke="#1B2F5C" stroke-width="3.6"/><path d="M1052.5,298.7 Q1052.5,292.7 1057.9,295.4 L1067.1,300.0 Q1072.5,302.7 1072.5,308.7 L1072.5,357.2 Q1072.5,363.2 1067.1,360.5 L1057.9,355.9 Q1052.5,353.2 1052.5,347.2 Z" fill="#98B3E8" stroke="#1B2F5C" stroke-width="3.6"/><path d="M1079.7,315.9 Q1079.7,309.9 1085.1,312.6 L1094.3,317.2 Q1099.7,319.9 1099.7,325.9 L1099.7,374.4 Q1099.7,380.4 1094.3,377.7 L1085.1,373.1 Q1079.7,370.4 1079.7,364.4 Z" fill="#98B3E8" stroke="#1B2F5C" stroke-width="3.6"/><path d="M1106.9,333.1 Q1106.9,327.1 1112.3,329.8 L1121.5,334.4 Q1126.9,337.1 1126.9,343.1 L1126.9,391.6 Q1126.9,397.6 1121.5,394.9 L1112.3,390.3 Q1106.9,387.6 1106.9,381.6 Z" fill="#98B3E8" stroke="#1B2F5C" stroke-width="3.6"/><path d="M1025.3,368.4 Q1025.3,362.4 1030.7,365.1 L1039.9,369.7 Q1045.3,372.4 1045.3,378.4 L1045.3,426.9 Q1045.3,432.9 1039.9,430.2 L1030.7,425.6 Q1025.3,422.9 1025.3,416.9 Z" fill="#98B3E8" stroke="#1B2F5C" stroke-width="3.6"/><path d="M1052.5,385.6 Q1052.5,379.6 1057.9,382.3 L1067.1,386.9 Q1072.5,389.6 1072.5,395.6 L1072.5,444.1 Q1072.5,450.1 1067.1,447.4 L1057.9,442.8 Q1052.5,440.1 1052.5,434.1 Z" fill="#98B3E8" stroke="#1B2F5C" stroke-width="3.6"/><path d="M1079.7,402.8 Q1079.7,396.8 1085.1,399.5 L1094.3,404.1 Q1099.7,406.8 1099.7,412.8 L1099.7,461.3 Q1099.7,467.3 1094.3,464.6 L1085.1,460.0 Q1079.7,457.3 1079.7,451.3 Z" fill="#98B3E8" stroke="#1B2F5C" stroke-width="3.6"/><path d="M1106.9,420.0 Q1106.9,414.0 1112.3,416.7 L1121.5,421.3 Q1126.9,424.0 1126.9,430.0 L1126.9,478.5 Q1126.9,484.5 1121.5,481.8 L1112.3,477.2 Q1106.9,474.5 1106.9,468.5 Z" fill="#98B3E8" stroke="#1B2F5C" stroke-width="3.6"/><polygon points="1150.7,221.9 1215.2,265.7 1215.2,474 1150.7,434.6" fill="#E5F2FE"/><path d="M1157.3,258.2 Q1157.3,252.2 1162.7,254.8 L1172.5,259.3 Q1177.9,261.9 1177.9,267.9 L1177.9,319.4 Q1177.9,325.4 1172.5,322.8 L1162.7,318.3 Q1157.3,315.7 1157.3,309.7 Z" fill="#98B3E8" stroke="#1B2F5C" stroke-width="3.6"/><path d="M1186.0,275.7 Q1186.0,269.7 1191.4,272.3 L1201.2,276.8 Q1206.6,279.4 1206.6,285.4 L1206.6,336.9 Q1206.6,342.9 1201.2,340.3 L1191.4,335.8 Q1186.0,333.2 1186.0,327.2 Z" fill="#98B3E8" stroke="#1B2F5C" stroke-width="3.6"/><path d="M1157.3,349.7 Q1157.3,343.7 1162.7,346.3 L1172.5,350.8 Q1177.9,353.4 1177.9,359.4 L1177.9,410.9 Q1177.9,416.9 1172.5,414.3 L1162.7,409.8 Q1157.3,407.2 1157.3,401.2 Z" fill="#98B3E8" stroke="#1B2F5C" stroke-width="3.6"/><path d="M1186.0,367.2 Q1186.0,361.2 1191.4,363.8 L1201.2,368.3 Q1206.6,370.9 1206.6,376.9 L1206.6,428.4 Q1206.6,434.4 1201.2,431.8 L1191.4,427.3 Q1186.0,424.7 1186.0,418.7 Z" fill="#98B3E8" stroke="#1B2F5C" stroke-width="3.6"/><polygon points="1229.5,297.3 1267.6,320.9 1267.6,445 1229.5,420.6" fill="#E5F2FE"/><path d="M1238.3,341.8 Q1238.3,335.8 1243.7,338.4 L1253.1,342.7 Q1258.5,345.3 1258.5,351.3 L1258.5,402.3 Q1258.5,408.3 1253.1,405.7 L1243.7,401.4 Q1238.3,398.8 1238.3,392.8 Z" fill="#98B3E8" stroke="#1B2F5C" stroke-width="3.6"/><line x1="1132.7" y1="160.4" x2="1267.6" y2="329.7" stroke="#3563B9" stroke-width="2.6" stroke-dasharray="8 4"/><line x1="1133" y1="524" x2="1269.8" y2="447.8" stroke="#3563B9" stroke-width="3.2" stroke-dasharray="11 4"/><line x1="1134.4" y1="424.5" x2="1150.7" y2="423" stroke="#3563B9" stroke-width="2.6" stroke-dasharray="8 3"/><line x1="1215.2" y1="420.3" x2="1229.5" y2="419.8" stroke="#3563B9" stroke-width="2.6" stroke-dasharray="8 3"/></g><g><rect x="1442.2" y="112.9" width="477.2" height="359" fill="#d0dcf2" fill-opacity="0.27"/><rect x="1418.8" y="131.6" width="500.6" height="359" fill="#d0dcf2" fill-opacity="0.27"/><rect x="1395.4" y="150.3" width="524.0" height="359" fill="#d0dcf2" fill-opacity="0.27"/><rect x="1372.0" y="169.0" width="538.0" height="359" fill="#d0dcf2" fill-opacity="0.27"/><polygon points="1372,169.0 1910,169.0 1980.2,112.9 1442.2,112.9" fill="#f0f4fb" fill-opacity="0.28"/><polygon points="1372,228.8 1910,228.8 1980.2,172.7 1442.2,172.7" fill="#f0f4fb" fill-opacity="0.28"/><polygon points="1372,288.7 1910,288.7 1980.2,232.6 1442.2,232.6" fill="#f0f4fb" fill-opacity="0.28"/><polygon points="1372,348.5 1910,348.5 1980.2,292.4 1442.2,292.4" fill="#f0f4fb" fill-opacity="0.28"/><polygon points="1372,408.3 1910,408.3 1980.2,352.2 1442.2,352.2" fill="#f0f4fb" fill-opacity="0.28"/><polygon points="1372,468.2 1910,468.2 1980.2,412.1 1442.2,412.1" fill="#f0f4fb" fill-opacity="0.28"/><polygon points="1372,528.0 1910,528.0 1980.2,471.9 1442.2,471.9" fill="#f0f4fb" fill-opacity="0.28"/><polygon points="1467.6,169.0 1488.6,152.2 1488.6,511.2 1467.6,528.0" fill="#bcc7da" fill-opacity="0.42"/><polygon points="1491.0,150.3 1512.0,133.5 1512.0,492.5 1491.0,509.3" fill="#bcc7da" fill-opacity="0.3"/><polygon points="1514.4,131.6 1535.4,114.8 1535.4,473.8 1514.4,490.6" fill="#bcc7da" fill-opacity="0.22"/><polygon points="1556.6,169.0 1577.6,152.2 1577.6,511.2 1556.6,528.0" fill="#bcc7da" fill-opacity="0.42"/><polygon points="1580.0,150.3 1601.0,133.5 1601.0,492.5 1580.0,509.3" fill="#bcc7da" fill-opacity="0.3"/><polygon points="1603.4,131.6 1624.4,114.8 1624.4,473.8 1603.4,490.6" fill="#bcc7da" fill-opacity="0.22"/><polygon points="1645.6,169.0 1666.6,152.2 1666.6,511.2 1645.6,528.0" fill="#bcc7da" fill-opacity="0.42"/><polygon points="1669.0,150.3 1690.0,133.5 1690.0,492.5 1669.0,509.3" fill="#bcc7da" fill-opacity="0.3"/><polygon points="1692.4,131.6 1713.4,114.8 1713.4,473.8 1692.4,490.6" fill="#bcc7da" fill-opacity="0.22"/><polygon points="1734.6,169.0 1755.6,152.2 1755.6,511.2 1734.6,528.0" fill="#bcc7da" fill-opacity="0.42"/><polygon points="1758.0,150.3 1779.0,133.5 1779.0,492.5 1758.0,509.3" fill="#bcc7da" fill-opacity="0.3"/><polygon points="1781.4,131.6 1802.4,114.8 1802.4,473.8 1781.4,490.6" fill="#bcc7da" fill-opacity="0.22"/><polygon points="1823.6,169.0 1844.6,152.2 1844.6,511.2 1823.6,528.0" fill="#bcc7da" fill-opacity="0.42"/><polygon points="1847.0,150.3 1868.0,133.5 1868.0,492.5 1847.0,509.3" fill="#bcc7da" fill-opacity="0.3"/><polygon points="1870.4,131.6 1891.4,114.8 1891.4,473.8 1870.4,490.6" fill="#bcc7da" fill-opacity="0.22"/><polygon points="1912.6,169.0 1933.6,152.2 1933.6,511.2 1912.6,528.0" fill="#bcc7da" fill-opacity="0.42"/><polygon points="1936.0,150.3 1957.0,133.5 1957.0,492.5 1936.0,509.3" fill="#bcc7da" fill-opacity="0.3"/><polygon points="1959.4,131.6 1980.4,114.8 1980.4,473.8 1959.4,490.6" fill="#bcc7da" fill-opacity="0.22"/></g><g><rect x="1406.3" y="283.5" width="51" height="22" fill="url(#thumbback)" fill-opacity="0.62"/><rect x="1408.3" y="283.5" width="28.1" height="1.5" fill="#4c5457" fill-opacity="0.35"/><rect x="1453.7" y="285.7" width="3.6" height="17.6" fill="#596063" fill-opacity="0.35"/><rect x="1400.3" y="287.8" width="51" height="22" fill="url(#thumbback)" fill-opacity="0.62"/><rect x="1402.3" y="287.8" width="28.1" height="1.5" fill="#4c5457" fill-opacity="0.35"/><rect x="1447.7" y="289.9" width="3.6" height="17.6" fill="#596063" fill-opacity="0.35"/><use href="#thumbimg" transform="translate(1394.3,292) scale(0.2277,0.2115)" opacity="0.95"/></g><g><rect x="1511.4" y="242.0" width="115.5" height="49" fill="url(#thumbback)" fill-opacity="0.62"/><rect x="1516.0" y="242.0" width="63.5" height="3.4" fill="#4c5457" fill-opacity="0.35"/><rect x="1618.8" y="246.9" width="8.1" height="39.2" fill="#596063" fill-opacity="0.35"/><rect x="1504.7" y="247.8" width="115.5" height="49" fill="url(#thumbback)" fill-opacity="0.62"/><rect x="1509.3" y="247.8" width="63.5" height="3.4" fill="#4c5457" fill-opacity="0.35"/><rect x="1612.1" y="252.7" width="8.1" height="39.2" fill="#596063" fill-opacity="0.35"/><rect x="1497.9" y="253.5" width="115.5" height="49" fill="url(#thumbback)" fill-opacity="0.62"/><rect x="1502.5" y="253.5" width="63.5" height="3.4" fill="#4c5457" fill-opacity="0.35"/><rect x="1605.3" y="258.4" width="8.1" height="39.2" fill="#596063" fill-opacity="0.35"/><rect x="1491.2" y="259.2" width="115.5" height="49" fill="url(#thumbback)" fill-opacity="0.62"/><rect x="1495.8" y="259.2" width="63.5" height="3.4" fill="#4c5457" fill-opacity="0.35"/><rect x="1598.6" y="264.1" width="8.1" height="39.2" fill="#596063" fill-opacity="0.35"/><use href="#thumbimg" transform="translate(1484.4,265) scale(0.5156,0.4712)" opacity="0.95"/></g><g><rect x="1692.3" y="163.0" width="224.3" height="104" fill="url(#thumbback)" fill-opacity="0.62"/><rect x="1701.3" y="163.0" width="123.4" height="7.3" fill="#4c5457" fill-opacity="0.35"/><rect x="1900.9" y="173.4" width="15.7" height="83.2" fill="#596063" fill-opacity="0.35"/><rect x="1681.3" y="172.4" width="224.3" height="104" fill="url(#thumbback)" fill-opacity="0.62"/><rect x="1690.3" y="172.4" width="123.4" height="7.3" fill="#4c5457" fill-opacity="0.35"/><rect x="1889.9" y="182.8" width="15.7" height="83.2" fill="#596063" fill-opacity="0.35"/><rect x="1670.3" y="181.8" width="224.3" height="104" fill="url(#thumbback)" fill-opacity="0.62"/><rect x="1679.3" y="181.8" width="123.4" height="7.3" fill="#4c5457" fill-opacity="0.35"/><rect x="1878.9" y="192.2" width="15.7" height="83.2" fill="#596063" fill-opacity="0.35"/><rect x="1659.3" y="191.2" width="224.3" height="104" fill="url(#thumbback)" fill-opacity="0.62"/><rect x="1668.3" y="191.2" width="123.4" height="7.3" fill="#4c5457" fill-opacity="0.35"/><rect x="1867.9" y="201.6" width="15.7" height="83.2" fill="#596063" fill-opacity="0.35"/><rect x="1648.3" y="200.6" width="224.3" height="104" fill="url(#thumbback)" fill-opacity="0.62"/><rect x="1657.3" y="200.6" width="123.4" height="7.3" fill="#4c5457" fill-opacity="0.35"/><rect x="1856.9" y="211.0" width="15.7" height="83.2" fill="#596063" fill-opacity="0.35"/><use href="#thumbimg" transform="translate(1637.3,210) scale(1.0013,1.0000)" opacity="0.95"/></g><g><rect x="1406.3" y="463.5" width="51" height="22" fill="url(#thumbback)" fill-opacity="0.62"/><rect x="1408.3" y="463.5" width="28.1" height="1.5" fill="#4c5457" fill-opacity="0.35"/><rect x="1453.7" y="465.7" width="3.6" height="17.6" fill="#596063" fill-opacity="0.35"/><rect x="1400.3" y="467.8" width="51" height="22" fill="url(#thumbback)" fill-opacity="0.62"/><rect x="1402.3" y="467.8" width="28.1" height="1.5" fill="#4c5457" fill-opacity="0.35"/><rect x="1447.7" y="469.9" width="3.6" height="17.6" fill="#596063" fill-opacity="0.35"/><use href="#thumbimg" transform="translate(1394.3,472) scale(0.2277,0.2115)" opacity="0.95"/></g><g><rect x="1511.4" y="422.0" width="115.5" height="49" fill="url(#thumbback)" fill-opacity="0.62"/><rect x="1516.0" y="422.0" width="63.5" height="3.4" fill="#4c5457" fill-opacity="0.35"/><rect x="1618.8" y="426.9" width="8.1" height="39.2" fill="#596063" fill-opacity="0.35"/><rect x="1504.7" y="427.8" width="115.5" height="49" fill="url(#thumbback)" fill-opacity="0.62"/><rect x="1509.3" y="427.8" width="63.5" height="3.4" fill="#4c5457" fill-opacity="0.35"/><rect x="1612.1" y="432.6" width="8.1" height="39.2" fill="#596063" fill-opacity="0.35"/><rect x="1497.9" y="433.5" width="115.5" height="49" fill="url(#thumbback)" fill-opacity="0.62"/><rect x="1502.5" y="433.5" width="63.5" height="3.4" fill="#4c5457" fill-opacity="0.35"/><rect x="1605.3" y="438.4" width="8.1" height="39.2" fill="#596063" fill-opacity="0.35"/><rect x="1491.2" y="439.2" width="115.5" height="49" fill="url(#thumbback)" fill-opacity="0.62"/><rect x="1495.8" y="439.2" width="63.5" height="3.4" fill="#4c5457" fill-opacity="0.35"/><rect x="1598.6" y="444.1" width="8.1" height="39.2" fill="#596063" fill-opacity="0.35"/><use href="#thumbimg" transform="translate(1484.4,445) scale(0.5156,0.4712)" opacity="0.95"/></g><g><rect x="1692.3" y="343.0" width="224.3" height="104" fill="url(#thumbback)" fill-opacity="0.62"/><rect x="1701.3" y="343.0" width="123.4" height="7.3" fill="#4c5457" fill-opacity="0.35"/><rect x="1900.9" y="353.4" width="15.7" height="83.2" fill="#596063" fill-opacity="0.35"/><rect x="1681.3" y="352.4" width="224.3" height="104" fill="url(#thumbback)" fill-opacity="0.62"/><rect x="1690.3" y="352.4" width="123.4" height="7.3" fill="#4c5457" fill-opacity="0.35"/><rect x="1889.9" y="362.8" width="15.7" height="83.2" fill="#596063" fill-opacity="0.35"/><rect x="1670.3" y="361.8" width="224.3" height="104" fill="url(#thumbback)" fill-opacity="0.62"/><rect x="1679.3" y="361.8" width="123.4" height="7.3" fill="#4c5457" fill-opacity="0.35"/><rect x="1878.9" y="372.2" width="15.7" height="83.2" fill="#596063" fill-opacity="0.35"/><rect x="1659.3" y="371.2" width="224.3" height="104" fill="url(#thumbback)" fill-opacity="0.62"/><rect x="1668.3" y="371.2" width="123.4" height="7.3" fill="#4c5457" fill-opacity="0.35"/><rect x="1867.9" y="381.6" width="15.7" height="83.2" fill="#596063" fill-opacity="0.35"/><rect x="1648.3" y="380.6" width="224.3" height="104" fill="url(#thumbback)" fill-opacity="0.62"/><rect x="1657.3" y="380.6" width="123.4" height="7.3" fill="#4c5457" fill-opacity="0.35"/><rect x="1856.9" y="391.0" width="15.7" height="83.2" fill="#596063" fill-opacity="0.35"/><use href="#thumbimg" transform="translate(1637.3,390) scale(1.0013,1.0000)" opacity="0.95"/></g><line x1="1912.2" y1="533.4" x2="2077.3" y2="390.8" stroke="#A9D18E" stroke-width="10.5"/><polygon points="2100,371.2 2087.0,403.6 2066.1,379.4" fill="#A9D18E"/><rect x="1351" y="528.2" width="624" height="10.3" fill="#8FAADC"/><polygon points="2005,533.4 1974,518.3 1974,548.7" fill="#8FAADC"/><rect x="1351.7" y="142" width="10.4" height="390" fill="#F4B183"/><polygon points="1356.7,112.6 1341,143.8 1372,143.8" fill="#F4B183"/><rect x="1464.5" y="696.7" width="452.5" height="77.89999999999998" rx="12" ry="12" fill="#BDD7EE" stroke="#0070C0" stroke-width="6"/><rect x="1462.8" y="809" width="454.0" height="72.79999999999995" rx="12" ry="12" fill="#E2EFDA" stroke="#548235" stroke-width="6"/><rect x="1462.8" y="919.3" width="456.79999999999995" height="79.40000000000009" rx="12" ry="12" fill="#FBE5D6" stroke="#C55A11" stroke-width="6"/><rect x="1459.8" y="1036.3" width="671.2" height="77.70000000000005" rx="12" ry="12" fill="#EED3EC" stroke="#7030A0" stroke-width="6"/><rect x="1962.7" y="696.8" width="165.99999999999977" height="314.6" rx="48" ry="48" fill="#EED3EC" stroke="#7030A0" stroke-width="5.4"/><text x="1690.8" y="753" font-size="41.6" font-weight="bold" font-style="normal" fill="#4472C4" text-anchor="middle" >Scale Attention</text><text x="1689.8" y="862" font-size="41.6" font-weight="bold" font-style="normal" fill="#70AD47" text-anchor="middle" >Spatial Attention</text><text x="1691.2" y="976.8" font-size="42" font-weight="bold" font-style="normal" fill="#ED7D31" text-anchor="middle" >Temporal Attention</text><text x="1795.2" y="1092" font-size="41.5" font-weight="bold" font-style="normal" fill="#7030A0" text-anchor="middle" >Cross Attention</text><text x="2045.1" y="849.3" font-size="31" font-weight="bold" font-style="normal" fill="#7030A0" text-anchor="middle" >Ada</text><text x="2045.2" y="885" font-size="31" font-weight="bold" font-style="normal" fill="#7030A0" text-anchor="middle" >LN</text><text x="1524.3" y="1181.7" font-size="42" font-weight="bold" font-style="normal" fill="#000" text-anchor="start" >Scale-Spatial-Temporal Blocks</text><line x1="1963.0" y1="741.3" x2="1947.0" y2="741.3" stroke="#7030A0" stroke-width="7"/><polygon points="1918.0,741.3 1948.0,725.8 1948.0,756.8" fill="#7030A0"/><line x1="1963.0" y1="846.5" x2="1946.5" y2="846.5" stroke="#7030A0" stroke-width="7"/><polygon points="1917.5,846.5 1947.5,831.0 1947.5,862.0" fill="#7030A0"/><line x1="1963.0" y1="961.0" x2="1944.6" y2="961.0" stroke="#7030A0" stroke-width="7"/><polygon points="1915.6,961.0 1945.6,945.5 1945.6,976.5" fill="#7030A0"/><polygon points="1051.5,684 1247.5,727 1247.5,858 1051.5,901" fill="#DAE3F3" stroke="#4472C4" stroke-width="5" stroke-linejoin="round"/><text x="1146" y="787" font-size="31" font-weight="bold" font-style="normal" fill="#4472C4" text-anchor="middle" >Multiscale</text><text x="1146" y="823.7" font-size="31" font-weight="bold" font-style="normal" fill="#4472C4" text-anchor="middle" >Decoder</text><polygon points="1052.3,941.5 1248.3,985.5 1248.3,1116 1052.3,1159.5" fill="#EED3EC" stroke="#7030A0" stroke-width="4.2" stroke-linejoin="round"/><text x="1146" y="1041.8" font-size="31" font-weight="bold" font-style="normal" fill="#7030A0" text-anchor="middle" >Action</text><text x="1146" y="1078" font-size="31" font-weight="bold" font-style="normal" fill="#7030A0" text-anchor="middle" >Decoder</text><text x="1290.8" y="952.3" font-size="44" font-weight="normal" font-style="normal" fill="#000" text-anchor="start" >N ×</text><line x1="1708.3" y1="566.8" x2="1708.3" y2="666.6" stroke="#5B9BD5" stroke-width="7.5"/><polygon points="1708.3,695.6 1692.8,665.6 1723.8,665.6" fill="#5B9BD5"/><line x1="1373.0" y1="801.5" x2="1278.0" y2="801.5" stroke="#5B9BD5" stroke-width="8"/><polygon points="1250.0,801.5 1279.0,786.0 1279.0,817.0" fill="#5B9BD5"/><line x1="1049.0" y1="805.0" x2="843.4" y2="807.1" stroke="#5B9BD5" stroke-width="8"/><polygon points="814.4,807.4 844.2,791.6 844.6,822.6" fill="#5B9BD5"/><line x1="1375.5" y1="1048.0" x2="1280.0" y2="1048.0" stroke="#7030A0" stroke-width="6"/><polygon points="1251.0,1048.0 1281.0,1033.0 1281.0,1063.0" fill="#7030A0"/><line x1="2251.4" y1="853.8" x2="2156.6" y2="853.8" stroke="#7030A0" stroke-width="8"/><polygon points="2130.6,853.8 2157.6,838.3 2157.6,869.3" fill="#7030A0"/><line x1="2254.0" y1="1076.5" x2="2159.0" y2="1076.5" stroke="#7030A0" stroke-width="8"/><polygon points="2133.0,1076.5 2160.0,1061.0 2160.0,1092.0" fill="#7030A0"/><polyline points="1050.5,1053 508.5,1053 508.5,920" fill="none" stroke="#7030A0" stroke-width="7.8" stroke-linejoin="miter"/><polygon points="508.4,893.7 493,924 524,924" fill="#7030A0"/><g><g filter="url(#b14)" opacity="0.95"><polygon points="278.2,769.1 305,807.5 414.5,829.7" fill="#d9b3f7" stroke="#d9b3f7" stroke-width="34" stroke-linejoin="round"/><polygon points="305,807.5 300.4,880.9 414.5,829.7" fill="#b5f6fb" stroke="#b5f6fb" stroke-width="34" stroke-linejoin="round"/><polygon points="278.2,769.1 277,841.3 300.4,880.9 305,807.5" fill="#f2a0a0" stroke="#f2a0a0" stroke-width="34" stroke-linejoin="round"/><polygon points="277,841.3 300.4,880.9 300,850" fill="#e9f59a" stroke="#e9f59a" stroke-width="30" stroke-linejoin="round"/><polygon points="300,838 312,872 336,850" fill="#b9f5ae" stroke="#b9f5ae" stroke-width="10" stroke-linejoin="round"/><polygon points="370,810 420,826 400,836" fill="#a3b5fb" stroke="#a3b5fb" stroke-width="22" stroke-linejoin="round"/><polygon points="330,795 370,806 345,812" fill="#d9a8f8" stroke="#d9a8f8" stroke-width="14" stroke-linejoin="round"/></g><g stroke="url(#frA)" stroke-width="4" stroke-linecap="round" fill="none"><line x1="278.2" y1="769.1" x2="277" y2="841.3" /><line x1="277" y1="841.3" x2="300.4" y2="880.9" /><line x1="300.4" y1="880.9" x2="305" y2="807.5" /><line x1="305" y1="807.5" x2="278.2" y2="769.1" /><line x1="278.2" y1="769.1" x2="414.5" y2="829.7" /><line x1="305" y1="807.5" x2="414.5" y2="829.7" /><line x1="300.4" y1="880.9" x2="414.5" y2="829.7" /><line x1="286" y1="842" x2="404" y2="831" stroke-dasharray="22 14" stroke-linecap="butt" stroke-width="4.4"/></g></g><g><g filter="url(#b14)" opacity="0.95"><polygon points="692.9,771.4 663.7,839 775.5,876.3" fill="#d6b0f8" stroke="#d6b0f8" stroke-width="34" stroke-linejoin="round"/><polygon points="621.1,858.8 663.7,839 775.5,876.3" fill="#b5f6fb" stroke="#b5f6fb" stroke-width="34" stroke-linejoin="round"/><polygon points="692.9,771.4 653.3,793.6 621.1,858.8 663.7,839" fill="#f3a3a0" stroke="#f3a3a0" stroke-width="34" stroke-linejoin="round"/><polygon points="653.3,793.6 621.1,858.8 648,830" fill="#eef59c" stroke="#eef59c" stroke-width="26" stroke-linejoin="round"/><polygon points="640,850 664,842 668,862" fill="#b9f5ae" stroke="#b9f5ae" stroke-width="10" stroke-linejoin="round"/><polygon points="730,830 772,872 745,862" fill="#a3b0fb" stroke="#a3b0fb" stroke-width="22" stroke-linejoin="round"/><polygon points="690,800 720,820 695,825" fill="#d9a8f8" stroke="#d9a8f8" stroke-width="12" stroke-linejoin="round"/></g><g stroke="url(#frB)" stroke-width="4" stroke-linecap="round" fill="none"><line x1="692.9" y1="771.4" x2="653.3" y2="793.6" /><line x1="653.3" y1="793.6" x2="621.1" y2="858.8" /><line x1="621.1" y1="858.8" x2="663.7" y2="839" /><line x1="663.7" y1="839" x2="692.9" y2="771.4" /><line x1="692.9" y1="771.4" x2="775.5" y2="876.3" /><line x1="621.1" y1="858.8" x2="775.5" y2="876.3" /><line x1="663.7" y1="839" x2="775.5" y2="876.3" /><line x1="668.5" y1="802.9" x2="745" y2="855" stroke-dasharray="22 14" stroke-linecap="butt" stroke-width="4.4"/></g></g><g fill="none" stroke="#000" stroke-width="6.6" stroke-linecap="round" stroke-linejoin="round"><path d="M546.4,857.2 A34.5,38.9 0 0 0 557.8,826.9 A34.5,38.9 0 0 0 523.3,788 A37.1,39 0 0 0 486.2,827 L486.5,836"/><polyline points="472.2,818.2 486.6,835.6 501.8,818.2"/></g><g transform="translate(428,1043.5)" fill="#000"><circle r="24.7" fill="none" stroke="#000" stroke-width="5.7"/><path d="M-15.82,-1.95 L-1.88,-1.95 L-1.88,-15.89 L1.95,-15.89 L1.95,0.36 Q1.95,1.95 0.36,1.95 L-15.82,1.95 Z"/><rect x="-9.61" y="-5.24" width="19.21" height="10.47" rx="2.60" transform="translate(-23.33,-27.59) rotate(-45)"/><rect x="-9.61" y="-5.24" width="19.21" height="10.47" rx="2.60" transform="translate(23.33,-27.59) rotate(45)"/><rect x="-7.94" y="-35.61" width="15.89" height="3.76" rx="1.88"/><rect x="-1.81" y="-33.22" width="3.61" height="7.94"/><line x1="-17.69" y1="18.06" x2="-21.88" y2="28.17" stroke="#000" stroke-width="3.83" stroke-linecap="round"/><line x1="17.69" y1="18.06" x2="21.88" y2="28.17" stroke="#000" stroke-width="3.83" stroke-linecap="round"/></g><g transform="translate(2401,493.5)" fill="#000"><circle r="34.2" fill="none" stroke="#000" stroke-width="8.4"/><path d="M-21.90,-2.70 L-2.60,-2.70 L-2.60,-22.00 L2.70,-22.00 L2.70,0.50 Q2.70,2.70 0.50,2.70 L-21.90,2.70 Z"/><rect x="-13.30" y="-7.25" width="26.60" height="14.50" rx="3.60" transform="translate(-32.30,-38.20) rotate(-45)"/><rect x="-13.30" y="-7.25" width="26.60" height="14.50" rx="3.60" transform="translate(32.30,-38.20) rotate(45)"/><rect x="-11.00" y="-49.30" width="22.00" height="5.20" rx="2.60"/><rect x="-2.50" y="-46.00" width="5.00" height="11.00"/><line x1="-24.50" y1="25.00" x2="-30.30" y2="39.00" stroke="#000" stroke-width="5.30" stroke-linecap="round"/><line x1="24.50" y1="25.00" x2="30.30" y2="39.00" stroke="#000" stroke-width="5.30" stroke-linecap="round"/></g><g transform="translate(955,999.8)"><circle r="38.6" fill="none" stroke="#000" stroke-width="8.4"/><circle r="9.25" fill="none" stroke="#000" stroke-width="6.5"/><path d="M-7.2,15.4 A16.9,16.9 0 0 0 7.2,15.4 L4.8,36 L-4.8,36 Z" fill="#000"/><path d="M-31.5,-19.2 L-11.1,-12.5 A16.9,16.9 0 0 0 -16.9,0.7 L-35.5,-11.3 Z" fill="#000"/><path d="M31.5,-19.2 L11.1,-12.5 A16.9,16.9 0 0 1 16.9,0.7 L35.5,-11.3 Z" fill="#000"/></g><g stroke="#7030A0" stroke-width="4.2" stroke-linecap="round" fill="none"><line x1="2425.4" y1="238.5" x2="2416.4" y2="284" /><line x1="2416.4" y1="284" x2="2461.1" y2="346.6" /><line x1="2461.1" y1="346.6" x2="2466.2" y2="300.4" /><line x1="2466.2" y1="300.4" x2="2425.4" y2="238.5" /><line x1="2312.8" y1="365.4" x2="2425.4" y2="238.5" /><line x1="2312.8" y1="365.4" x2="2416.4" y2="284" /><line x1="2312.8" y1="365.4" x2="2461.1" y2="346.6" /><line x1="2344" y1="351" x2="2464.7" y2="301.9" stroke-dasharray="22 13" stroke-linecap="butt" stroke-width="4.4"/></g><g transform="translate(2165.524190734333,-31.68650762383527) scale(0.45024864981686136)"><g transform="translate(343.09,325.79) scale(0.15575)"><ellipse cx="1100" cy="900" rx="560" ry="32" fill="#222" opacity="0.28"/><path d="M210,640 C212,590 222,560 232,535 C245,480 262,430 290,400 C320,378 380,372 440,360 C520,320 580,296 640,280 C690,255 720,245 760,240 C840,228 920,228 1000,230 C1060,232 1100,238 1130,246 C1200,280 1270,320 1340,360 C1420,372 1500,385 1560,402 C1620,425 1665,450 1700,482 C1745,520 1775,560 1790,600 C1805,630 1812,655 1810,680 C1810,720 1803,755 1790,780 C1775,810 1750,825 1720,832 L1480,850 L700,862 L480,870 C420,868 350,850 300,830 C255,805 232,770 220,730 C212,700 209,670 210,640 Z" fill="url(#carBody)"/><path d="M430,560 L470,380 L635,290 L660,440 Z" fill="#cdd7de"/><path d="M470,380 L635,290 L645,350 L455,450 Z" fill="#e9eef2" opacity="0.7"/><path d="M650,572 L820,430 L1222,425 L1392,582 Z" fill="#5b6678" stroke="#8f2a33" stroke-width="8"/><path d="M1005,428 L1040,428 L1060,578 L1020,578 Z" fill="#3f4754"/><path d="M680,560 L830,438 L900,438 L760,560 Z" fill="#7a8594" opacity="0.6"/><path d="M1140,255 L1340,360 L1475,545 L1420,540 L1180,292 Z" fill="#d3dade"/><path d="M1005,245 L1110,250 L1160,385 L1045,380 Z" fill="#c6cdd0"/><path d="M1035,585 L1045,850" stroke="#c3202c" stroke-width="7" fill="none"/><rect x="765" y="655" width="88" height="22" rx="10" fill="#f5c1c1"/><rect x="1110" y="655" width="88" height="22" rx="10" fill="#f5c1c1"/><ellipse cx="1772" cy="655" rx="27" ry="35" fill="#fbeceb"/><path d="M285,650 L365,655 L342,715 L296,710 Z" fill="#c01e2a"/><path d="M1395,585 L1440,570 L1445,600 Z" fill="#c7222e"/><ellipse cx="597" cy="852" rx="128" ry="112" fill="#2e3137"/><ellipse cx="592" cy="850" rx="86" ry="77" fill="#d3d5d8"/><ellipse cx="592" cy="850" rx="24" ry="21" fill="#8f9296"/><ellipse cx="1612" cy="806" rx="112" ry="100" fill="#2e3137"/><ellipse cx="1608" cy="804" rx="76" ry="68" fill="#d3d5d8"/><ellipse cx="1608" cy="804" rx="21" ry="19" fill="#8f9296"/></g></g><g transform="translate(2310,600) scale(0.11395)"><polygon points="175,860 530,1040 1320,650 1200,595" fill="#595959"/><polygon points="195,535 480,650 480,955 175,800" fill="#fbb03b"/><polygon points="197,545 470,660 468,800 188,680" fill="#4a4a4c"/><polygon points="280,758 345,783 345,826 280,800" fill="#f4f4f4"/><polygon points="180,780 245,805 245,818 180,792" fill="#e8432e"/><polygon points="375,870 440,895 440,910 375,884" fill="#e8432e"/><polygon points="250,810 370,858 370,872 250,824" fill="#f7941d"/><polygon points="480,650 1250,285 1268,330 1285,520 1275,590 480,955" fill="#f9a51a"/><polygon points="215,505 960,130 1250,285 480,650" fill="#fbb116"/><polygon points="195,535 215,505 480,650 480,665" fill="#fdb827"/><polygon points="365,450 470,395 685,515 580,565" fill="#ffc60b"/><polygon points="575,345 680,295 890,400 790,450" fill="#ffc60b"/><polygon points="750,255 855,205 1060,310 965,360" fill="#ffc60b"/><polygon points="480,650 1250,285 1252,300 482,668" fill="#1a1a1a"/><polygon points="520,668 645,608 645,740 520,798" fill="#141a1e"/><polygon points="660,600 850,508 850,640 660,728" fill="#141a1e"/><polygon points="870,499 1045,414 1045,545 870,630" fill="#141a1e"/><polygon points="1070,402 1215,332 1215,460 1070,528" fill="#141a1e"/><polygon points="1225,320 1255,305 1262,440 1230,455" fill="#141a1e"/><polygon points="520,668 645,608 645,640 520,700" fill="#5b6064" opacity="0.6"/><polygon points="660,600 850,508 850,535 660,628" fill="#5b6064" opacity="0.6"/><polygon points="870,499 1045,414 1045,440 870,526" fill="#5b6064" opacity="0.6"/><polygon points="765,745 855,705 855,765 765,805" fill="#6b5a12"/><polygon points="775,748 784,744 784,796 775,800" fill="#2d2a10"/><polygon points="796,739 805,735 805,787 796,791" fill="#2d2a10"/><polygon points="817,729 826,725 826,777 817,781" fill="#2d2a10"/><polygon points="838,720 847,716 847,768 838,772" fill="#2d2a10"/><polygon points="860,690 930,655 930,730 860,765" fill="#ffcb08"/><ellipse cx="688" cy="862" rx="58" ry="76" fill="#2b2b2b"/><ellipse cx="684" cy="864" rx="36" ry="46" fill="#f2f2f2"/><ellipse cx="684" cy="864" rx="15" ry="19" fill="#58595b"/><ellipse cx="684" cy="864" rx="7" ry="9" fill="#f2f2f2"/><ellipse cx="1130" cy="645" rx="54" ry="72" fill="#2b2b2b"/><ellipse cx="1126" cy="647" rx="33" ry="43" fill="#f2f2f2"/><ellipse cx="1126" cy="647" rx="14" ry="18" fill="#58595b"/><ellipse cx="1126" cy="647" rx="6.5" ry="8.5" fill="#f2f2f2"/><polygon points="1262,505 1285,530 1262,545" fill="#e8432e"/><ellipse cx="1052" cy="600" rx="6" ry="8" fill="#e8432e"/><ellipse cx="1058" cy="635" rx="5" ry="7" fill="#e8432e"/></g><g clip-path="url(#cPhoto)"><g filter="url(#b1)"><g transform="translate(2300,990) scale(0.09639)"><rect x="0" y="0" width="1971" height="1141" fill="#4a564c"/><rect x="95" y="72" width="605" height="388" fill="#3b5057"/><polygon points="95,90 420,90 690,280 690,325 400,135 95,135" fill="#6f909e" opacity="0.7"/><polygon points="95,185 420,185 690,375 690,420 400,230 95,230" fill="#6f909e" opacity="0.7"/><polygon points="95,280 420,280 690,470 690,515 400,325 95,325" fill="#6f909e" opacity="0.7"/><polygon points="95,375 420,375 690,565 690,610 400,420 95,420" fill="#6f909e" opacity="0.7"/><ellipse cx="330" cy="290" rx="270" ry="150" fill="#2f3e38" opacity="0.65"/><ellipse cx="560" cy="180" rx="160" ry="110" fill="#33423a" opacity="0.7"/><rect x="100" y="430" width="590" height="215" fill="#b7babb"/><rect x="100" y="430" width="590" height="40" fill="#8d9294"/><rect x="370" y="480" width="70" height="160" fill="#6f7374"/><rect x="120" y="560" width="120" height="80" fill="#cfd2d4"/><rect x="270" y="585" width="360" height="80" fill="#2e392f"/><rect x="760" y="300" width="120" height="300" fill="#c9d3dc"/><rect x="770" y="330" width="100" height="20" fill="#5f7f94"/><rect x="770" y="380" width="100" height="20" fill="#5f7f94"/><rect x="770" y="430" width="100" height="20" fill="#5f7f94"/><rect x="770" y="480" width="100" height="20" fill="#5f7f94"/><rect x="770" y="530" width="100" height="20" fill="#5f7f94"/><polygon points="380,72 1310,72 1310,300 1250,460 1000,540 900,420 760,300 600,200" fill="#3f4c3a"/><ellipse cx="1120" cy="430" rx="230" ry="170" fill="#566650"/><ellipse cx="1380" cy="520" rx="180" ry="110" fill="#5d6d54"/><ellipse cx="1000" cy="250" rx="200" ry="150" fill="#3a4736"/><polygon points="1300,72 1400,72 1480,200 1560,250 1560,385 1320,385 1290,250" fill="#f4f6f2"/><rect x="1555" y="250" width="65" height="130" fill="#9fb0c4"/><polygon points="1390,72 1865,72 1865,620 1760,560 1600,380 1480,200" fill="#424f3f"/><ellipse cx="1600" cy="520" rx="150" ry="100" fill="#556650"/><polygon points="1610,385 1700,350 1795,690 1715,700" fill="#3b372f"/><rect x="1000" y="560" width="520" height="85" fill="#a3aaa1"/><rect x="1240" y="500" width="100" height="140" fill="#d9dcd9" opacity="0.8"/><polygon points="755,230 830,240 905,560 925,655 868,655 850,450" fill="#2d2b25"/><line x1="1110" y1="100" x2="905" y2="560" stroke="#34322b" stroke-width="40"/><rect x="244" y="72" width="24" height="623" fill="#5b5b55"/><rect x="732" y="72" width="20" height="618" fill="#6a6b66"/><polygon points="95,690 960,648 1460,640 1865,690 1865,1090 95,1090" fill="#8b8c8d"/><polygon points="95,700 960,650 790,740 95,1060" fill="#676d55"/><polygon points="95,780 700,700 600,790 95,960" fill="#5a5f4c" opacity="0.8"/><polygon points="95,720 720,658 720,680 95,772" fill="#a3a29b"/><polygon points="790,740 812,742 135,1090 95,1090 95,1065" fill="#b1a678"/><polygon points="1240,650 1460,640 1865,765 1865,1090 1740,1090 1300,690" fill="#9a9a98"/><polygon points="1218,665 1300,690 1865,1090 1735,1090 1240,722" fill="#4b4b49"/><polygon points="1460,648 1865,690 1865,775 1500,670" fill="#6a7056"/><polygon points="980,660 1230,652 1260,700 960,720" fill="#b9bab8" opacity="0.8"/><polygon points="880,820 1260,820 1300,880 860,880" fill="#c9c9c9" opacity="0.45"/><polygon points="700,960 1100,940 1200,1000 650,1030" fill="#a3a4a4" opacity="0.6"/></g></g></g><text x="999.8" y="572.2" font-size="41.4" font-weight="bold" font-style="normal" fill="#000" text-anchor="start" >Multi-scale tokenizer</text><text x="309" y="1175" font-size="41.7" font-weight="bold" font-style="normal" fill="#000" text-anchor="start" textLength="352" lengthAdjust="spacingAndGlyphs" >Closed loop Rollout</text><text x="2348" y="1182" font-size="41.5" font-weight="bold" font-style="normal" fill="#000" text-anchor="start" >Diverse Conditions</text><text x="2627.2" y="170.7" font-size="36.3" font-weight="bold" font-style="normal" fill="#7030A0" text-anchor="middle" textLength="183.2" lengthAdjust="spacingAndGlyphs" >Ego Motion</text><text x="2627.5" y="341.6" font-size="36.3" font-weight="bold" font-style="normal" fill="#7030A0" text-anchor="middle" textLength="206.5" lengthAdjust="spacingAndGlyphs" >Camera Pose</text><text x="2627.5" y="519" font-size="36.3" font-weight="bold" font-style="normal" fill="#7030A0" text-anchor="middle" textLength="142.5" lengthAdjust="spacingAndGlyphs" >Timestep</text><text x="2628" y="695.7" font-size="36.3" font-weight="bold" font-style="normal" fill="#7030A0" text-anchor="middle" textLength="107" lengthAdjust="spacingAndGlyphs" >Object</text><text x="2627.9" y="867" font-size="36.3" font-weight="bold" font-style="normal" fill="#7030A0" text-anchor="middle" textLength="70" lengthAdjust="spacingAndGlyphs" >Text</text><text x="2626.9" y="1043.9" font-size="36.3" font-weight="bold" font-style="normal" fill="#7030A0" text-anchor="middle" textLength="209.8" lengthAdjust="spacingAndGlyphs" >Partial Views</text><text x="2626.9" y="1085.7" font-size="36.3" font-weight="bold" font-style="normal" fill="#7030A0" text-anchor="middle" textLength="234" lengthAdjust="spacingAndGlyphs" >Partial Frames</text><text x="2275" y="850" font-size="29" font-weight="normal" font-style="italic" fill="#000" text-anchor="start" textLength="240" lengthAdjust="spacingAndGlyphs" >A driving scene image</text><text x="2281.4" y="885.7" font-size="29" font-weight="normal" font-style="italic" fill="#000" text-anchor="start" textLength="227" lengthAdjust="spacingAndGlyphs" >at Boston-seaport …</text><text x="312" y="960" font-size="40" font-weight="normal" font-style="italic" fill="#000" text-anchor="start" >T + 1</text><text x="692.9" y="965.5" font-size="40" font-weight="normal" font-style="italic" fill="#000" text-anchor="start" >T</text><text x="1374.3" y="129.8" font-size="51" font-weight="normal" font-style="normal" fill="#F4B183" text-anchor="start" textLength="202" lengthAdjust="spacingAndGlyphs" >Temporal</text><text x="2023.2" y="356" font-size="51" font-weight="normal" font-style="normal" fill="#A9D18E" text-anchor="start" textLength="145.6" lengthAdjust="spacingAndGlyphs" >Spatial</text><text x="2020.6" y="547.3" font-size="51" font-weight="normal" font-style="normal" fill="#4472C4" text-anchor="start" textLength="113.8" lengthAdjust="spacingAndGlyphs" >Scale</text>
</svg>
</body></html>
